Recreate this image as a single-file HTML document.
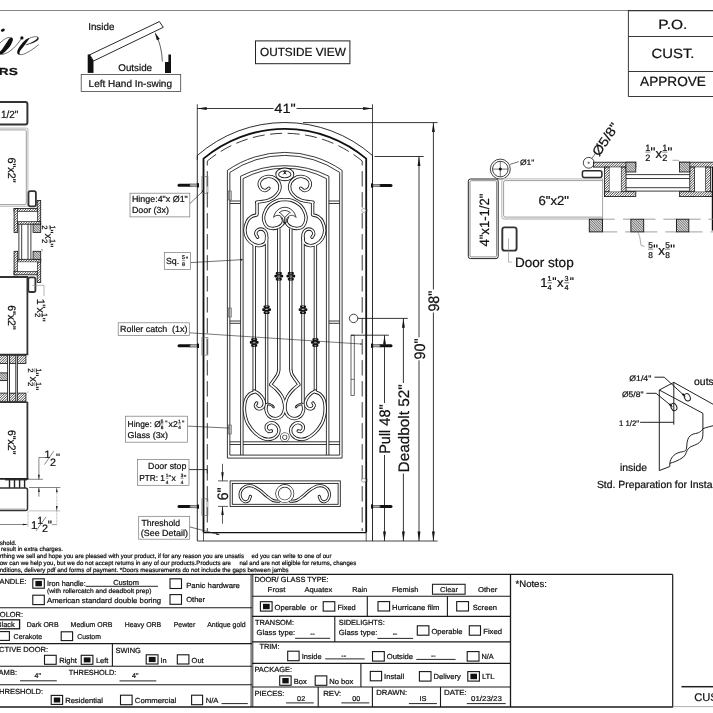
<!DOCTYPE html>
<html><head><meta charset="utf-8"><title>Door drawing</title>
<style>
html,body{margin:0;padding:0;background:#fff;}
body{width:713px;height:713px;overflow:hidden;}
svg text{stroke:#111;stroke-width:0.22px;}
svg{display:block;font-family:"Liberation Sans",sans-serif;text-rendering:geometricPrecision;filter:grayscale(1);}
</style></head><body>
<svg width="713" height="713" viewBox="0 0 713 713">
<rect width="713" height="713" fill="#fff"/>
<line x1="0" y1="10.5" x2="628" y2="10.5" stroke="#777" stroke-width="0.9" />
<g fill="none" stroke="#111" stroke-linecap="round">
<ellipse cx="2.8" cy="30.2" rx="2.1" ry="1.45" transform="rotate(-25 2.8 30.2)" fill="#111" stroke="none"/>
<path d="M-1,44 C2,41 5,38.3 8,37.6 C10,37.2 11.5,37.4 12.2,38.2" stroke-width="0.6"/>
<path d="M8.6,39.6 C9.6,37.6 12.2,36.9 12.8,38.8 C13.2,40.4 12.2,42.4 11.1,44.4 C9.6,47 7.4,49.4 5.6,51.2 C4,52.8 2.6,53.8 1.2,54.3 L-1,54.3 L-1,52.3 C0.4,51.3 1.4,50.2 2.5,48.7 C4.6,45.8 6.8,42.6 8.6,39.6 Z" fill="#111" stroke="none"/>
<path d="M0.5,54.4 C3,54.8 6.5,53.4 9.9,51.2 C12.4,49.4 14.4,47.4 16,45.6 C18.2,43.2 20,41 21.4,38.6" stroke-width="0.6"/>
<circle cx="21.9" cy="37.9" r="1.65" fill="#111" stroke="none"/>
<path d="M27.8,38.4 C28.6,38 29.4,38.4 29,39.1 C27.6,41 26,43 24.7,45 C23.2,47.2 21.6,48.9 20.4,50.5 C19.6,51.8 19.2,53.2 19.8,54.2 C18.6,54.8 17.4,54.3 17.2,52.8 C17,51 17.8,49.2 19.8,46.2 C21.6,43.6 23.8,41.2 25.9,39.4 C26.6,38.9 27.2,38.6 27.8,38.4 Z" fill="#111" stroke="none"/>
<path d="M28.2,38.8 C30,37.8 32.4,37 34.6,36.7 C36.2,36.5 37.4,36.8 37.9,37.5" stroke-width="0.6"/>
<path d="M37.7,37.2 C38.6,37.6 38.7,38.6 38.2,39.4 C37.8,40 37.2,40.6 36.4,41.1 C34.8,42.2 32.8,42.9 30.9,43.5 C29.2,44 27.4,44.5 25.6,44.8 C27.6,44.2 29.4,43.6 30.8,42.9 C32.6,42.1 34.4,41.1 35.8,40 C36.8,39.2 37.6,38.2 37.7,37.2 Z" fill="#111" stroke="#111" stroke-width="0.35"/>
<path d="M18.8,54.3 C20.4,54.9 22,54.7 23.5,54.2 C25.6,53.5 27.6,52.4 29.6,51.2 C32.6,49.4 35.6,47.2 38.4,44.9" stroke-width="0.6"/>
</g>
<text x="-1.2" y="74.8" font-size="10.2" textLength="19" lengthAdjust="spacingAndGlyphs" font-weight="bold" fill="#111" >RS</text>
<text x="88.2" y="29.8" font-size="9.8" fill="#111" >Inside</text>
<text x="118.3" y="70.7" font-size="9.8" fill="#111" >Outside</text>
<polygon points="87.7,54.4 93.5,54.4 93.5,72.9 87.7,72.9" fill="#111" stroke="none" stroke-width="0"/>
<polygon points="90,55.2 93.6,61.2 93.6,54.9" fill="#fff" stroke="none" stroke-width="0"/>
<polygon points="89.7,54.8 159.4,21.6 163.3,27.3 93.5,61" fill="#fff" stroke="#111" stroke-width="0.9"/>
<polygon points="168.4,54.4 171,54.4 171,72.9 165,72.9 165,62 168.4,62" fill="#111" stroke="none" stroke-width="0"/>
<path d="M162.3,61.5 C162,51 159.5,41 155.3,33.4" fill="none" stroke="#151515" stroke-width="0.7" />
<polygon points="154.9,32.6 159.8,38.89 156.84,40.33" fill="#151515" stroke="none" stroke-width="0"/>
<rect x="81.2" y="74.4" width="99.5" height="17" rx="0" fill="none" stroke="#444" stroke-width="0.8" />
<text x="88.6" y="86.9" font-size="10.0" fill="#111" >Left Hand In-swing</text>
<rect x="255.5" y="40.9" width="94.4" height="22.8" rx="0" fill="none" stroke="#222" stroke-width="1.0" />
<text x="302.9" y="55.5" font-size="11.8" text-anchor="middle" fill="#111" >OUTSIDE VIEW</text>
<line x1="628" y1="10.6" x2="713" y2="10.6" stroke="#333" stroke-width="1.3" />
<line x1="628.4" y1="10.6" x2="628.4" y2="96.5" stroke="#222" stroke-width="0.9" />
<line x1="628.4" y1="36.5" x2="713" y2="36.5" stroke="#222" stroke-width="0.9" />
<line x1="628.4" y1="71.5" x2="713" y2="71.5" stroke="#222" stroke-width="0.9" />
<line x1="628.4" y1="96.5" x2="713" y2="96.5" stroke="#222" stroke-width="0.9" />
<text x="672.8" y="29.3" font-size="13.3" text-anchor="middle" textLength="29" lengthAdjust="spacingAndGlyphs" fill="#111" >P.O.</text>
<text x="673" y="58.3" font-size="13.3" text-anchor="middle" textLength="42.9" lengthAdjust="spacingAndGlyphs" fill="#111" >CUST.</text>
<text x="673" y="85.7" font-size="13.4" text-anchor="middle" textLength="65.9" lengthAdjust="spacingAndGlyphs" fill="#111" >APPROVE</text>
<line x1="197.3" y1="104.3" x2="197.3" y2="160" stroke="#151515" stroke-width="0.8" />
<line x1="372.5" y1="104.3" x2="372.5" y2="160" stroke="#151515" stroke-width="0.8" />
<line x1="197.3" y1="108.5" x2="273.5" y2="108.5" stroke="#151515" stroke-width="0.85" />
<line x1="296.5" y1="108.5" x2="372.5" y2="108.5" stroke="#151515" stroke-width="0.85" />
<polygon points="197.3,108.5 206.7,107.05 206.7,109.95" fill="#151515" stroke="none" stroke-width="0"/>
<polygon points="372.5,108.5 363.1,109.95 363.1,107.05" fill="#151515" stroke="none" stroke-width="0"/>
<text x="285" y="113.4" font-size="13.4" text-anchor="middle" textLength="21.4" lengthAdjust="spacingAndGlyphs" fill="#111" >41"</text>
<path d="M197.3,541 L197.3,155.5 A132.8,132.8 0 0 1 372.5,155.5 L372.5,541" fill="none" stroke="#151515" stroke-width="0.9" />
<path d="M203.5,532.4 L203.5,158.6 A126.3,126.3 0 0 1 366.2,158.6 L366.2,532.4" fill="none" stroke="#111" stroke-width="1.8" />
<path d="M207.3,161 A122.1,122.1 0 0 1 362.2,161" fill="none" stroke="#151515" stroke-width="0.85" stroke-dasharray="12 5.5" stroke-dashoffset="0.85"/>
<path d="M207.3,161 L207.3,531" fill="none" stroke="#151515" stroke-width="0.85" stroke-dasharray="15.4 5.6" stroke-dashoffset="10.9"/>
<path d="M362.2,161 L362.2,531" fill="none" stroke="#151515" stroke-width="0.85" stroke-dasharray="15.4 5.6" stroke-dashoffset="10.9"/>
<line x1="203.5" y1="532.6" x2="366.2" y2="532.6" stroke="#111" stroke-width="1.3" />
<line x1="203.5" y1="532.4" x2="203.5" y2="541" stroke="#151515" stroke-width="0.7" />
<line x1="366.2" y1="532.4" x2="366.2" y2="541" stroke="#151515" stroke-width="0.7" />
<line x1="197.3" y1="541" x2="437.6" y2="541" stroke="#151515" stroke-width="0.8" />
<line x1="179" y1="185.2" x2="190.2" y2="185.2" stroke="#111" stroke-width="3.0" stroke-linecap="round"/>
<rect x="189.9" y="183.95" width="7.3" height="2.5" rx="0" fill="#aaa" stroke="#333" stroke-width="0.5" />
<rect x="196.9" y="183" width="2.1" height="4.4" rx="0.6" fill="#111" stroke="none" stroke-width="0" />
<line x1="179" y1="345.8" x2="190.2" y2="345.8" stroke="#111" stroke-width="3.0" stroke-linecap="round"/>
<rect x="189.9" y="344.55" width="7.3" height="2.5" rx="0" fill="#aaa" stroke="#333" stroke-width="0.5" />
<rect x="196.9" y="343.6" width="2.1" height="4.4" rx="0.6" fill="#111" stroke="none" stroke-width="0" />
<line x1="179" y1="506.6" x2="190.2" y2="506.6" stroke="#111" stroke-width="3.0" stroke-linecap="round"/>
<rect x="189.9" y="505.35" width="7.3" height="2.5" rx="0" fill="#aaa" stroke="#333" stroke-width="0.5" />
<rect x="196.9" y="504.4" width="2.1" height="4.4" rx="0.6" fill="#111" stroke="none" stroke-width="0" />
<line x1="379.8" y1="185.5" x2="391" y2="185.5" stroke="#111" stroke-width="3.0" stroke-linecap="round"/>
<rect x="372.8" y="184.25" width="7.3" height="2.5" rx="0" fill="#aaa" stroke="#333" stroke-width="0.5" />
<rect x="371" y="183.3" width="2.1" height="4.4" rx="0.6" fill="#111" stroke="none" stroke-width="0" />
<line x1="379.8" y1="345.7" x2="391" y2="345.7" stroke="#111" stroke-width="3.0" stroke-linecap="round"/>
<rect x="372.8" y="344.45" width="7.3" height="2.5" rx="0" fill="#aaa" stroke="#333" stroke-width="0.5" />
<rect x="371" y="343.5" width="2.1" height="4.4" rx="0.6" fill="#111" stroke="none" stroke-width="0" />
<line x1="379.8" y1="506.5" x2="391" y2="506.5" stroke="#111" stroke-width="3.0" stroke-linecap="round"/>
<rect x="372.8" y="505.25" width="7.3" height="2.5" rx="0" fill="#aaa" stroke="#333" stroke-width="0.5" />
<rect x="371" y="504.3" width="2.1" height="4.4" rx="0.6" fill="#111" stroke="none" stroke-width="0" />
<rect x="201.9" y="176.4" width="6" height="16.8" rx="0" fill="none" stroke="#666" stroke-width="0.6" />
<line x1="206.5" y1="176.4" x2="206.5" y2="193.2" stroke="#888" stroke-width="0.5" />
<rect x="201.9" y="337.3" width="6" height="17.8" rx="0" fill="none" stroke="#666" stroke-width="0.6" />
<line x1="206.5" y1="337.3" x2="206.5" y2="355.1" stroke="#888" stroke-width="0.5" />
<rect x="201.9" y="498.8" width="6" height="16.6" rx="0" fill="none" stroke="#666" stroke-width="0.6" />
<line x1="206.5" y1="498.8" x2="206.5" y2="515.4" stroke="#888" stroke-width="0.5" />
<line x1="303" y1="122.6" x2="437.6" y2="122.6" stroke="#151515" stroke-width="0.85" />
<line x1="374.5" y1="156.5" x2="423.7" y2="156.5" stroke="#151515" stroke-width="0.85" />
<line x1="433.4" y1="122.6" x2="433.4" y2="289.5" stroke="#151515" stroke-width="0.85" />
<line x1="433.4" y1="312.5" x2="433.4" y2="541" stroke="#151515" stroke-width="0.85" />
<polygon points="433.4,122.6 434.85,132 431.95,132" fill="#151515" stroke="none" stroke-width="0"/>
<polygon points="433.4,541 431.95,531.6 434.85,531.6" fill="#151515" stroke="none" stroke-width="0"/>
<text x="439.2" y="311.6" font-size="15.2" transform="rotate(-90 439.2 311.6)" textLength="21" lengthAdjust="spacingAndGlyphs" fill="#111" >98"</text>
<line x1="419" y1="156.5" x2="419" y2="337.3" stroke="#151515" stroke-width="0.85" />
<line x1="419" y1="360.3" x2="419" y2="541" stroke="#151515" stroke-width="0.85" />
<polygon points="419,156.5 420.45,165.9 417.55,165.9" fill="#151515" stroke="none" stroke-width="0"/>
<polygon points="419,541 417.55,531.6 420.45,531.6" fill="#151515" stroke="none" stroke-width="0"/>
<text x="424.7" y="359.4" font-size="15.2" transform="rotate(-90 424.7 359.4)" textLength="21" lengthAdjust="spacingAndGlyphs" fill="#111" >90"</text>
<circle cx="353.6" cy="318.4" r="4.2" fill="none" stroke="#151515" stroke-width="0.8"/>
<line x1="357.8" y1="318.4" x2="407.8" y2="318.4" stroke="#151515" stroke-width="0.85" />
<line x1="403.4" y1="318.4" x2="403.4" y2="383" stroke="#151515" stroke-width="0.85" />
<line x1="403.4" y1="473.5" x2="403.4" y2="541" stroke="#151515" stroke-width="0.85" />
<polygon points="403.4,318.4 404.85,327.8 401.95,327.8" fill="#151515" stroke="none" stroke-width="0"/>
<polygon points="403.4,541 401.95,531.6 404.85,531.6" fill="#151515" stroke="none" stroke-width="0"/>
<text x="409" y="472.4" font-size="15.2" transform="rotate(-90 409 472.4)" textLength="88.2" lengthAdjust="spacingAndGlyphs" fill="#111" >Deadbolt 52"</text>
<rect x="351" y="335.2" width="3.2" height="60.1" rx="0" fill="none" stroke="#151515" stroke-width="0.65" />
<line x1="351" y1="379.3" x2="354.2" y2="379.3" stroke="#151515" stroke-width="0.6" />
<line x1="351" y1="335.2" x2="388.9" y2="335.2" stroke="#151515" stroke-width="0.85" />
<line x1="384.5" y1="335.2" x2="384.5" y2="403" stroke="#151515" stroke-width="0.85" />
<line x1="384.5" y1="455" x2="384.5" y2="541" stroke="#151515" stroke-width="0.85" />
<polygon points="384.5,335.2 385.95,344.6 383.05,344.6" fill="#151515" stroke="none" stroke-width="0"/>
<polygon points="384.5,541 383.05,531.6 385.95,531.6" fill="#151515" stroke="none" stroke-width="0"/>
<text x="390" y="453.8" font-size="15.2" transform="rotate(-90 390 453.8)" textLength="49.4" lengthAdjust="spacingAndGlyphs" fill="#111" >Pull 48"</text>
<path d="M227.4,458.1 L227.4,170.4 A100.36,100.36 0 0 1 342.1,170.4 L342.1,458.1Z" fill="none" stroke="#151515" stroke-width="0.85" />
<path d="M229.85,455.1 L229.85,172.4 A97.15,97.15 0 0 1 339.65,172.4 L339.65,455.1Z" fill="none" stroke="#151515" stroke-width="0.85" />
<path d="M240.6,455.1 L240.6,176.2 A98.07,98.07 0 0 1 328.9,176.2 L328.9,455.1" fill="none" stroke="#151515" stroke-width="0.85" />
<path d="M243.1,455.1 L243.1,178.6 A88.6,88.6 0 0 1 326.4,178.6 L326.4,455.1" fill="none" stroke="#151515" stroke-width="0.85" />
<line x1="229.85" y1="201" x2="240.6" y2="201" stroke="#151515" stroke-width="0.85" />
<line x1="328.9" y1="201" x2="339.65" y2="201" stroke="#151515" stroke-width="0.85" />
<line x1="229.85" y1="203.5" x2="240.6" y2="203.5" stroke="#151515" stroke-width="0.85" />
<line x1="328.9" y1="203.5" x2="339.65" y2="203.5" stroke="#151515" stroke-width="0.85" />
<line x1="229.85" y1="321" x2="240.6" y2="321" stroke="#151515" stroke-width="0.85" />
<line x1="328.9" y1="321" x2="339.65" y2="321" stroke="#151515" stroke-width="0.85" />
<line x1="229.85" y1="323.3" x2="240.6" y2="323.3" stroke="#151515" stroke-width="0.85" />
<line x1="328.9" y1="323.3" x2="339.65" y2="323.3" stroke="#151515" stroke-width="0.85" />
<line x1="229.85" y1="441.8" x2="240.6" y2="441.8" stroke="#151515" stroke-width="0.85" />
<line x1="243.1" y1="441.8" x2="326.4" y2="441.8" stroke="#151515" stroke-width="0.85" />
<line x1="328.9" y1="441.8" x2="339.65" y2="441.8" stroke="#151515" stroke-width="0.85" />
<line x1="229.85" y1="444.5" x2="240.6" y2="444.5" stroke="#151515" stroke-width="0.85" />
<line x1="243.1" y1="444.5" x2="326.4" y2="444.5" stroke="#151515" stroke-width="0.85" />
<line x1="328.9" y1="444.5" x2="339.65" y2="444.5" stroke="#151515" stroke-width="0.85" />
<path d="M254.2,245 L254.2,392" fill="none" stroke="#151515" stroke-width="3.35" stroke-linecap="butt" stroke-linejoin="round"/>
<path d="M315.4,245 L315.4,392" fill="none" stroke="#151515" stroke-width="3.35" stroke-linecap="butt" stroke-linejoin="round"/>
<path d="M266.6,237 L266.6,405" fill="none" stroke="#151515" stroke-width="3.35" stroke-linecap="butt" stroke-linejoin="round"/>
<path d="M303,237 L303,405" fill="none" stroke="#151515" stroke-width="3.35" stroke-linecap="butt" stroke-linejoin="round"/>
<path d="M278.8,228.5 L278.8,370.5" fill="none" stroke="#151515" stroke-width="3.35" stroke-linecap="butt" stroke-linejoin="round"/>
<path d="M290.8,228.5 L290.8,370.5" fill="none" stroke="#151515" stroke-width="3.35" stroke-linecap="butt" stroke-linejoin="round"/>
<ellipse cx="284.8" cy="174.4" rx="7.6" ry="4.95" fill="none" stroke="#151515" stroke-width="3.7"/>
<path d="M268.9,188.2 C268.25,188.6 266.45,190.7 265,190.6 C263.55,190.5 261.03,189.2 260.2,187.6 C259.37,186 258.9,182.83 260,181 C261.1,179.17 264.22,177 266.8,176.6 C269.38,176.2 273.3,177.03 275.5,178.6 C277.7,180.17 279.7,183.43 280,186 C280.3,188.57 279.13,191.67 277.3,194 C275.47,196.33 272.45,198.63 269,200 C265.55,201.37 258.67,201.83 256.6,202.2" fill="none" stroke="#151515" stroke-width="3.35" stroke-linecap="round" stroke-linejoin="round"/>
<path d="M300.7,188.2 C301.35,188.6 303.15,190.7 304.6,190.6 C306.05,190.5 308.57,189.2 309.4,187.6 C310.23,186 310.7,182.83 309.6,181 C308.5,179.17 305.38,177 302.8,176.6 C300.22,176.2 296.3,177.03 294.1,178.6 C291.9,180.17 289.9,183.43 289.6,186 C289.3,188.57 290.47,191.67 292.3,194 C294.13,196.33 297.15,198.63 300.6,200 C304.05,201.37 310.93,201.83 313,202.2" fill="none" stroke="#151515" stroke-width="3.35" stroke-linecap="round" stroke-linejoin="round"/>
<path d="M257,201.9 L257,214.6 L256.6,215 C255.75,215.27 253.05,215.6 251.5,216.6 C249.95,217.6 248.4,218.72 247.3,221 C246.2,223.28 244.9,227.35 244.9,230.3 C244.9,233.25 245.78,236.32 247.3,238.7 C248.82,241.08 251.77,243.48 254,244.6 C256.23,245.72 258.82,245.67 260.7,245.4 C262.58,245.13 264.32,243.98 265.3,243 C266.28,242.02 266.38,240.08 266.6,239.5" fill="none" stroke="#151515" stroke-width="3.35" stroke-linecap="butt" stroke-linejoin="round"/>
<path d="M312.6,201.9 L312.6,214.6 L313,215 C313.85,215.27 316.55,215.6 318.1,216.6 C319.65,217.6 321.2,218.72 322.3,221 C323.4,223.28 324.7,227.35 324.7,230.3 C324.7,233.25 323.82,236.32 322.3,238.7 C320.78,241.08 317.83,243.48 315.6,244.6 C313.37,245.72 310.78,245.67 308.9,245.4 C307.02,245.13 305.28,243.98 304.3,243 C303.32,242.02 303.22,240.08 303,239.5" fill="none" stroke="#151515" stroke-width="3.35" stroke-linecap="butt" stroke-linejoin="round"/>
<path d="M257.6,237.2 C257.3,236.63 255.87,234.93 255.8,233.8 C255.73,232.67 256.38,231.2 257.2,230.4 C258.02,229.6 259.5,229 260.7,229 C261.9,229 263.45,229.57 264.4,230.4 C265.35,231.23 266.03,232.65 266.4,234 C266.77,235.35 266.57,237.75 266.6,238.5" fill="none" stroke="#151515" stroke-width="3.35" stroke-linecap="round" stroke-linejoin="round"/>
<path d="M312,237.2 C312.3,236.63 313.73,234.93 313.8,233.8 C313.87,232.67 313.22,231.2 312.4,230.4 C311.58,229.6 310.1,229 308.9,229 C307.7,229 306.15,229.57 305.2,230.4 C304.25,231.23 303.57,232.65 303.2,234 C302.83,235.35 303.03,237.75 303,238.5" fill="none" stroke="#151515" stroke-width="3.35" stroke-linecap="round" stroke-linejoin="round"/>
<path d="M284.8,199.6 C283.58,199.77 280.13,199.62 277.5,200.6 C274.87,201.58 271.2,203.35 269,205.5 C266.8,207.65 265.18,211.08 264.3,213.5 C263.42,215.92 263.32,217.85 263.7,220 C264.08,222.15 265.27,225 266.6,226.4 C267.93,227.8 269.87,228.2 271.7,228.4 C273.53,228.6 275.85,228.27 277.6,227.6 C279.35,226.93 281.22,225.6 282.2,224.4 C283.18,223.2 283.55,221.7 283.5,220.4 C283.45,219.1 282.17,217.23 281.9,216.6" fill="none" stroke="#151515" stroke-width="3.35" stroke-linecap="butt" stroke-linejoin="round"/>
<path d="M284.8,199.6 C286.02,199.77 289.47,199.62 292.1,200.6 C294.73,201.58 298.4,203.35 300.6,205.5 C302.8,207.65 304.42,211.08 305.3,213.5 C306.18,215.92 306.28,217.85 305.9,220 C305.52,222.15 304.33,225 303,226.4 C301.67,227.8 299.73,228.2 297.9,228.4 C296.07,228.6 293.75,228.27 292,227.6 C290.25,226.93 288.38,225.6 287.4,224.4 C286.42,223.2 286.05,221.7 286.1,220.4 C286.15,219.1 287.43,217.23 287.7,216.6" fill="none" stroke="#151515" stroke-width="3.35" stroke-linecap="butt" stroke-linejoin="round"/>
<path d="M254.2,245 L254.2,392" fill="none" stroke="#fff" stroke-width="1.65" stroke-linecap="butt" stroke-linejoin="round"/>
<path d="M315.4,245 L315.4,392" fill="none" stroke="#fff" stroke-width="1.65" stroke-linecap="butt" stroke-linejoin="round"/>
<path d="M266.6,237 L266.6,405" fill="none" stroke="#fff" stroke-width="1.65" stroke-linecap="butt" stroke-linejoin="round"/>
<path d="M303,237 L303,405" fill="none" stroke="#fff" stroke-width="1.65" stroke-linecap="butt" stroke-linejoin="round"/>
<path d="M278.8,228.5 L278.8,370.5" fill="none" stroke="#fff" stroke-width="1.65" stroke-linecap="butt" stroke-linejoin="round"/>
<path d="M290.8,228.5 L290.8,370.5" fill="none" stroke="#fff" stroke-width="1.65" stroke-linecap="butt" stroke-linejoin="round"/>
<ellipse cx="284.8" cy="174.4" rx="7.6" ry="4.95" fill="none" stroke="#fff" stroke-width="2.0"/>
<path d="M268.9,188.2 C268.25,188.6 266.45,190.7 265,190.6 C263.55,190.5 261.03,189.2 260.2,187.6 C259.37,186 258.9,182.83 260,181 C261.1,179.17 264.22,177 266.8,176.6 C269.38,176.2 273.3,177.03 275.5,178.6 C277.7,180.17 279.7,183.43 280,186 C280.3,188.57 279.13,191.67 277.3,194 C275.47,196.33 272.45,198.63 269,200 C265.55,201.37 258.67,201.83 256.6,202.2" fill="none" stroke="#fff" stroke-width="1.65" stroke-linecap="round" stroke-linejoin="round"/>
<path d="M300.7,188.2 C301.35,188.6 303.15,190.7 304.6,190.6 C306.05,190.5 308.57,189.2 309.4,187.6 C310.23,186 310.7,182.83 309.6,181 C308.5,179.17 305.38,177 302.8,176.6 C300.22,176.2 296.3,177.03 294.1,178.6 C291.9,180.17 289.9,183.43 289.6,186 C289.3,188.57 290.47,191.67 292.3,194 C294.13,196.33 297.15,198.63 300.6,200 C304.05,201.37 310.93,201.83 313,202.2" fill="none" stroke="#fff" stroke-width="1.65" stroke-linecap="round" stroke-linejoin="round"/>
<path d="M257,201.9 L257,214.6 L256.6,215 C255.75,215.27 253.05,215.6 251.5,216.6 C249.95,217.6 248.4,218.72 247.3,221 C246.2,223.28 244.9,227.35 244.9,230.3 C244.9,233.25 245.78,236.32 247.3,238.7 C248.82,241.08 251.77,243.48 254,244.6 C256.23,245.72 258.82,245.67 260.7,245.4 C262.58,245.13 264.32,243.98 265.3,243 C266.28,242.02 266.38,240.08 266.6,239.5" fill="none" stroke="#fff" stroke-width="1.65" stroke-linecap="butt" stroke-linejoin="round"/>
<path d="M312.6,201.9 L312.6,214.6 L313,215 C313.85,215.27 316.55,215.6 318.1,216.6 C319.65,217.6 321.2,218.72 322.3,221 C323.4,223.28 324.7,227.35 324.7,230.3 C324.7,233.25 323.82,236.32 322.3,238.7 C320.78,241.08 317.83,243.48 315.6,244.6 C313.37,245.72 310.78,245.67 308.9,245.4 C307.02,245.13 305.28,243.98 304.3,243 C303.32,242.02 303.22,240.08 303,239.5" fill="none" stroke="#fff" stroke-width="1.65" stroke-linecap="butt" stroke-linejoin="round"/>
<path d="M257.6,237.2 C257.3,236.63 255.87,234.93 255.8,233.8 C255.73,232.67 256.38,231.2 257.2,230.4 C258.02,229.6 259.5,229 260.7,229 C261.9,229 263.45,229.57 264.4,230.4 C265.35,231.23 266.03,232.65 266.4,234 C266.77,235.35 266.57,237.75 266.6,238.5" fill="none" stroke="#fff" stroke-width="1.65" stroke-linecap="round" stroke-linejoin="round"/>
<path d="M312,237.2 C312.3,236.63 313.73,234.93 313.8,233.8 C313.87,232.67 313.22,231.2 312.4,230.4 C311.58,229.6 310.1,229 308.9,229 C307.7,229 306.15,229.57 305.2,230.4 C304.25,231.23 303.57,232.65 303.2,234 C302.83,235.35 303.03,237.75 303,238.5" fill="none" stroke="#fff" stroke-width="1.65" stroke-linecap="round" stroke-linejoin="round"/>
<path d="M284.8,199.6 C283.58,199.77 280.13,199.62 277.5,200.6 C274.87,201.58 271.2,203.35 269,205.5 C266.8,207.65 265.18,211.08 264.3,213.5 C263.42,215.92 263.32,217.85 263.7,220 C264.08,222.15 265.27,225 266.6,226.4 C267.93,227.8 269.87,228.2 271.7,228.4 C273.53,228.6 275.85,228.27 277.6,227.6 C279.35,226.93 281.22,225.6 282.2,224.4 C283.18,223.2 283.55,221.7 283.5,220.4 C283.45,219.1 282.17,217.23 281.9,216.6" fill="none" stroke="#fff" stroke-width="1.65" stroke-linecap="butt" stroke-linejoin="round"/>
<path d="M284.8,199.6 C286.02,199.77 289.47,199.62 292.1,200.6 C294.73,201.58 298.4,203.35 300.6,205.5 C302.8,207.65 304.42,211.08 305.3,213.5 C306.18,215.92 306.28,217.85 305.9,220 C305.52,222.15 304.33,225 303,226.4 C301.67,227.8 299.73,228.2 297.9,228.4 C296.07,228.6 293.75,228.27 292,227.6 C290.25,226.93 288.38,225.6 287.4,224.4 C286.42,223.2 286.05,221.7 286.1,220.4 C286.15,219.1 287.43,217.23 287.7,216.6" fill="none" stroke="#fff" stroke-width="1.65" stroke-linecap="butt" stroke-linejoin="round"/>
<path d="M273.6,217.4 C274.8,211.5 279.3,207.3 284.8,207.3 C290.3,207.3 294.8,211.5 296,217.4 C294.2,215.2 291,214.6 288.6,216.4 C287,217.8 286.3,219.8 286.2,222.6 L283.4,222.6 C283.3,219.8 282.6,217.8 281,216.4 C278.6,214.6 275.4,215.2 273.6,217.4 Z" fill="#fff" stroke="#151515" stroke-width="0.85" />
<path d="M279,212.9 C280.8,211.2 282.8,210.5 284.8,210.5 C286.8,210.5 288.8,211.2 290.6,212.9" fill="none" stroke="#151515" stroke-width="0.85" />
<path d="M279.9,212.5 L284.8,217.5 L289.7,212.5" fill="none" stroke="#151515" stroke-width="0.85" />
<line x1="284.8" y1="217.5" x2="284.8" y2="224.6" stroke="#151515" stroke-width="1.1" />
<path d="M283.25,170.8 L286.35,174.4 M286.35,170.8 L283.25,174.4 M284.8,170.2 L284.8,174.0" fill="none" stroke="#111" stroke-width="0.9" />
<rect x="275.8" y="272.1" width="6" height="2.6" rx="0.8" fill="#111" stroke="none" stroke-width="0" />
<rect x="274.4" y="274.8" width="8.8" height="2.8" rx="1.0" fill="#111" stroke="none" stroke-width="0" />
<rect x="275.8" y="277.9" width="6" height="2.6" rx="0.8" fill="#111" stroke="none" stroke-width="0" />
<line x1="277.8" y1="273.2" x2="279.8" y2="273.2" stroke="#ddd" stroke-width="0.7" />
<line x1="277.4" y1="276.1" x2="280.2" y2="276.1" stroke="#ddd" stroke-width="0.8" />
<line x1="277.8" y1="279.2" x2="279.8" y2="279.2" stroke="#ddd" stroke-width="0.7" />
<rect x="287.8" y="272.1" width="6" height="2.6" rx="0.8" fill="#111" stroke="none" stroke-width="0" />
<rect x="286.4" y="274.8" width="8.8" height="2.8" rx="1.0" fill="#111" stroke="none" stroke-width="0" />
<rect x="287.8" y="277.9" width="6" height="2.6" rx="0.8" fill="#111" stroke="none" stroke-width="0" />
<line x1="289.8" y1="273.2" x2="291.8" y2="273.2" stroke="#ddd" stroke-width="0.7" />
<line x1="289.4" y1="276.1" x2="292.2" y2="276.1" stroke="#ddd" stroke-width="0.8" />
<line x1="289.8" y1="279.2" x2="291.8" y2="279.2" stroke="#ddd" stroke-width="0.7" />
<rect x="263.6" y="305.5" width="6" height="2.6" rx="0.8" fill="#111" stroke="none" stroke-width="0" />
<rect x="262.2" y="308.2" width="8.8" height="2.8" rx="1.0" fill="#111" stroke="none" stroke-width="0" />
<rect x="263.6" y="311.3" width="6" height="2.6" rx="0.8" fill="#111" stroke="none" stroke-width="0" />
<line x1="265.6" y1="306.6" x2="267.6" y2="306.6" stroke="#ddd" stroke-width="0.7" />
<line x1="265.2" y1="309.5" x2="268" y2="309.5" stroke="#ddd" stroke-width="0.8" />
<line x1="265.6" y1="312.6" x2="267.6" y2="312.6" stroke="#ddd" stroke-width="0.7" />
<rect x="300" y="305.5" width="6" height="2.6" rx="0.8" fill="#111" stroke="none" stroke-width="0" />
<rect x="298.6" y="308.2" width="8.8" height="2.8" rx="1.0" fill="#111" stroke="none" stroke-width="0" />
<rect x="300" y="311.3" width="6" height="2.6" rx="0.8" fill="#111" stroke="none" stroke-width="0" />
<line x1="302" y1="306.6" x2="304" y2="306.6" stroke="#ddd" stroke-width="0.7" />
<line x1="301.6" y1="309.5" x2="304.4" y2="309.5" stroke="#ddd" stroke-width="0.8" />
<line x1="302" y1="312.6" x2="304" y2="312.6" stroke="#ddd" stroke-width="0.7" />
<rect x="251.2" y="338.3" width="6" height="2.6" rx="0.8" fill="#111" stroke="none" stroke-width="0" />
<rect x="249.8" y="341" width="8.8" height="2.8" rx="1.0" fill="#111" stroke="none" stroke-width="0" />
<rect x="251.2" y="344.1" width="6" height="2.6" rx="0.8" fill="#111" stroke="none" stroke-width="0" />
<line x1="253.2" y1="339.4" x2="255.2" y2="339.4" stroke="#ddd" stroke-width="0.7" />
<line x1="252.8" y1="342.3" x2="255.6" y2="342.3" stroke="#ddd" stroke-width="0.8" />
<line x1="253.2" y1="345.4" x2="255.2" y2="345.4" stroke="#ddd" stroke-width="0.7" />
<rect x="312.4" y="338.3" width="6" height="2.6" rx="0.8" fill="#111" stroke="none" stroke-width="0" />
<rect x="311" y="341" width="8.8" height="2.8" rx="1.0" fill="#111" stroke="none" stroke-width="0" />
<rect x="312.4" y="344.1" width="6" height="2.6" rx="0.8" fill="#111" stroke="none" stroke-width="0" />
<line x1="314.4" y1="339.4" x2="316.4" y2="339.4" stroke="#ddd" stroke-width="0.7" />
<line x1="314" y1="342.3" x2="316.8" y2="342.3" stroke="#ddd" stroke-width="0.8" />
<line x1="314.4" y1="345.4" x2="316.4" y2="345.4" stroke="#ddd" stroke-width="0.7" />
<path d="M278.8,370 C278.6,370.75 278.48,372.75 277.6,374.5 C276.72,376.25 274.67,378.82 273.5,380.5 C272.33,382.18 271.08,383.92 270.6,384.6 L270.6,384.6 C271.58,385.42 274.6,387.52 276.5,389.5 C278.4,391.48 280.68,394.08 282,396.5 C283.32,398.92 284.03,401.58 284.4,404 C284.77,406.42 284.77,408.92 284.2,411 C283.63,413.08 282.53,415.23 281,416.5 C279.47,417.77 277.03,418.68 275,418.6 C272.97,418.52 270.3,417.43 268.8,416 C267.3,414.57 266.37,412 266,410 C265.63,408 266.5,405 266.6,404" fill="none" stroke="#151515" stroke-width="3.35" stroke-linecap="butt" stroke-linejoin="round"/>
<path d="M254.2,392 C253.43,392.33 251.03,392.7 249.6,394 C248.17,395.3 246.47,397.47 245.6,399.8 C244.73,402.13 244.47,405.3 244.4,408 C244.33,410.7 244.63,413.4 245.2,416 C245.77,418.6 246.23,420.83 247.8,423.6 C249.37,426.37 252.03,430.13 254.6,432.6 C257.17,435.07 260.4,437.33 263.2,438.4 C266,439.47 269.13,439.43 271.4,439 C273.67,438.57 275.53,437.23 276.8,435.8 C278.07,434.37 279,432.17 279,430.4 C279,428.63 278,426.5 276.8,425.2 C275.6,423.9 273.43,422.67 271.8,422.6 C270.17,422.53 267.9,423.77 267,424.8 C266.1,425.83 266.13,427.7 266.4,428.8 C266.67,429.9 267.77,431.03 268.6,431.4 C269.43,431.77 270.93,431.07 271.4,431" fill="none" stroke="#151515" stroke-width="3.35" stroke-linecap="round" stroke-linejoin="round"/>
<path d="M254.2,391 C254.92,391.42 257.07,392.25 258.5,393.5 C259.93,394.75 261.83,396.75 262.8,398.5 C263.77,400.25 264.43,402.42 264.3,404 C264.17,405.58 263.08,407.23 262,408 C260.92,408.77 258.9,409 257.8,408.6 C256.7,408.2 255.6,406.53 255.4,405.6 C255.2,404.67 256.4,403.43 256.6,403" fill="none" stroke="#151515" stroke-width="3.35" stroke-linecap="round" stroke-linejoin="round"/>
<path d="M267.2,404 C267.63,404.07 268.93,404.1 269.8,404.4 C270.67,404.7 271.77,405.33 272.4,405.8 C273.03,406.27 273.4,406.97 273.6,407.2" fill="none" stroke="#151515" stroke-width="2.45" stroke-linecap="round" stroke-linejoin="round"/>
<path d="M290.8,370 C291,370.75 291.12,372.75 292,374.5 C292.88,376.25 294.93,378.82 296.1,380.5 C297.27,382.18 298.52,383.92 299,384.6 L299,384.6 C298.02,385.42 295,387.52 293.1,389.5 C291.2,391.48 288.92,394.08 287.6,396.5 C286.28,398.92 285.57,401.58 285.2,404 C284.83,406.42 284.83,408.92 285.4,411 C285.97,413.08 287.07,415.23 288.6,416.5 C290.13,417.77 292.57,418.68 294.6,418.6 C296.63,418.52 299.3,417.43 300.8,416 C302.3,414.57 303.23,412 303.6,410 C303.97,408 303.1,405 303,404" fill="none" stroke="#151515" stroke-width="3.35" stroke-linecap="butt" stroke-linejoin="round"/>
<path d="M315.4,392 C316.17,392.33 318.57,392.7 320,394 C321.43,395.3 323.13,397.47 324,399.8 C324.87,402.13 325.13,405.3 325.2,408 C325.27,410.7 324.97,413.4 324.4,416 C323.83,418.6 323.37,420.83 321.8,423.6 C320.23,426.37 317.57,430.13 315,432.6 C312.43,435.07 309.2,437.33 306.4,438.4 C303.6,439.47 300.47,439.43 298.2,439 C295.93,438.57 294.07,437.23 292.8,435.8 C291.53,434.37 290.6,432.17 290.6,430.4 C290.6,428.63 291.6,426.5 292.8,425.2 C294,423.9 296.17,422.67 297.8,422.6 C299.43,422.53 301.7,423.77 302.6,424.8 C303.5,425.83 303.47,427.7 303.2,428.8 C302.93,429.9 301.83,431.03 301,431.4 C300.17,431.77 298.67,431.07 298.2,431" fill="none" stroke="#151515" stroke-width="3.35" stroke-linecap="round" stroke-linejoin="round"/>
<path d="M315.4,391 C314.68,391.42 312.53,392.25 311.1,393.5 C309.67,394.75 307.77,396.75 306.8,398.5 C305.83,400.25 305.17,402.42 305.3,404 C305.43,405.58 306.52,407.23 307.6,408 C308.68,408.77 310.7,409 311.8,408.6 C312.9,408.2 314,406.53 314.2,405.6 C314.4,404.67 313.2,403.43 313,403" fill="none" stroke="#151515" stroke-width="3.35" stroke-linecap="round" stroke-linejoin="round"/>
<path d="M302.4,404 C301.97,404.07 300.67,404.1 299.8,404.4 C298.93,404.7 297.83,405.33 297.2,405.8 C296.57,406.27 296.2,406.97 296,407.2" fill="none" stroke="#151515" stroke-width="2.45" stroke-linecap="round" stroke-linejoin="round"/>
<circle cx="284.8" cy="437.2" r="3.3" fill="none" stroke="#151515" stroke-width="2.9"/>
<path d="M278.8,370 C278.6,370.75 278.48,372.75 277.6,374.5 C276.72,376.25 274.67,378.82 273.5,380.5 C272.33,382.18 271.08,383.92 270.6,384.6 L270.6,384.6 C271.58,385.42 274.6,387.52 276.5,389.5 C278.4,391.48 280.68,394.08 282,396.5 C283.32,398.92 284.03,401.58 284.4,404 C284.77,406.42 284.77,408.92 284.2,411 C283.63,413.08 282.53,415.23 281,416.5 C279.47,417.77 277.03,418.68 275,418.6 C272.97,418.52 270.3,417.43 268.8,416 C267.3,414.57 266.37,412 266,410 C265.63,408 266.5,405 266.6,404" fill="none" stroke="#fff" stroke-width="1.65" stroke-linecap="butt" stroke-linejoin="round"/>
<path d="M254.2,392 C253.43,392.33 251.03,392.7 249.6,394 C248.17,395.3 246.47,397.47 245.6,399.8 C244.73,402.13 244.47,405.3 244.4,408 C244.33,410.7 244.63,413.4 245.2,416 C245.77,418.6 246.23,420.83 247.8,423.6 C249.37,426.37 252.03,430.13 254.6,432.6 C257.17,435.07 260.4,437.33 263.2,438.4 C266,439.47 269.13,439.43 271.4,439 C273.67,438.57 275.53,437.23 276.8,435.8 C278.07,434.37 279,432.17 279,430.4 C279,428.63 278,426.5 276.8,425.2 C275.6,423.9 273.43,422.67 271.8,422.6 C270.17,422.53 267.9,423.77 267,424.8 C266.1,425.83 266.13,427.7 266.4,428.8 C266.67,429.9 267.77,431.03 268.6,431.4 C269.43,431.77 270.93,431.07 271.4,431" fill="none" stroke="#fff" stroke-width="1.65" stroke-linecap="round" stroke-linejoin="round"/>
<path d="M254.2,391 C254.92,391.42 257.07,392.25 258.5,393.5 C259.93,394.75 261.83,396.75 262.8,398.5 C263.77,400.25 264.43,402.42 264.3,404 C264.17,405.58 263.08,407.23 262,408 C260.92,408.77 258.9,409 257.8,408.6 C256.7,408.2 255.6,406.53 255.4,405.6 C255.2,404.67 256.4,403.43 256.6,403" fill="none" stroke="#fff" stroke-width="1.65" stroke-linecap="round" stroke-linejoin="round"/>
<path d="M267.2,404 C267.63,404.07 268.93,404.1 269.8,404.4 C270.67,404.7 271.77,405.33 272.4,405.8 C273.03,406.27 273.4,406.97 273.6,407.2" fill="none" stroke="#fff" stroke-width="0.75" stroke-linecap="round" stroke-linejoin="round"/>
<path d="M290.8,370 C291,370.75 291.12,372.75 292,374.5 C292.88,376.25 294.93,378.82 296.1,380.5 C297.27,382.18 298.52,383.92 299,384.6 L299,384.6 C298.02,385.42 295,387.52 293.1,389.5 C291.2,391.48 288.92,394.08 287.6,396.5 C286.28,398.92 285.57,401.58 285.2,404 C284.83,406.42 284.83,408.92 285.4,411 C285.97,413.08 287.07,415.23 288.6,416.5 C290.13,417.77 292.57,418.68 294.6,418.6 C296.63,418.52 299.3,417.43 300.8,416 C302.3,414.57 303.23,412 303.6,410 C303.97,408 303.1,405 303,404" fill="none" stroke="#fff" stroke-width="1.65" stroke-linecap="butt" stroke-linejoin="round"/>
<path d="M315.4,392 C316.17,392.33 318.57,392.7 320,394 C321.43,395.3 323.13,397.47 324,399.8 C324.87,402.13 325.13,405.3 325.2,408 C325.27,410.7 324.97,413.4 324.4,416 C323.83,418.6 323.37,420.83 321.8,423.6 C320.23,426.37 317.57,430.13 315,432.6 C312.43,435.07 309.2,437.33 306.4,438.4 C303.6,439.47 300.47,439.43 298.2,439 C295.93,438.57 294.07,437.23 292.8,435.8 C291.53,434.37 290.6,432.17 290.6,430.4 C290.6,428.63 291.6,426.5 292.8,425.2 C294,423.9 296.17,422.67 297.8,422.6 C299.43,422.53 301.7,423.77 302.6,424.8 C303.5,425.83 303.47,427.7 303.2,428.8 C302.93,429.9 301.83,431.03 301,431.4 C300.17,431.77 298.67,431.07 298.2,431" fill="none" stroke="#fff" stroke-width="1.65" stroke-linecap="round" stroke-linejoin="round"/>
<path d="M315.4,391 C314.68,391.42 312.53,392.25 311.1,393.5 C309.67,394.75 307.77,396.75 306.8,398.5 C305.83,400.25 305.17,402.42 305.3,404 C305.43,405.58 306.52,407.23 307.6,408 C308.68,408.77 310.7,409 311.8,408.6 C312.9,408.2 314,406.53 314.2,405.6 C314.4,404.67 313.2,403.43 313,403" fill="none" stroke="#fff" stroke-width="1.65" stroke-linecap="round" stroke-linejoin="round"/>
<path d="M302.4,404 C301.97,404.07 300.67,404.1 299.8,404.4 C298.93,404.7 297.83,405.33 297.2,405.8 C296.57,406.27 296.2,406.97 296,407.2" fill="none" stroke="#fff" stroke-width="0.75" stroke-linecap="round" stroke-linejoin="round"/>
<circle cx="284.8" cy="437.2" r="3.3" fill="none" stroke="#fff" stroke-width="1.6"/>
<rect x="230.1" y="480.9" width="110.2" height="25.5" rx="0" fill="none" stroke="#151515" stroke-width="0.85" />
<rect x="232.3" y="483.4" width="105.8" height="20.9" rx="0" fill="none" stroke="#151515" stroke-width="0.85" />
<path d="M250.4,496.4 C250.1,497.1 249.6,499.73 248.6,500.6 C247.6,501.47 245.7,502.03 244.4,501.6 C243.1,501.17 241.43,499.67 240.8,498 C240.17,496.33 239.87,493.5 240.6,491.6 C241.33,489.7 243.27,487.53 245.2,486.6 C247.13,485.67 249.82,485.43 252.2,486 C254.58,486.57 257.12,488.33 259.5,490 C261.88,491.67 264.25,494.25 266.5,496 C268.75,497.75 270.92,499.63 273,500.5 C275.08,501.37 278,501.08 279,501.2" fill="none" stroke="#151515" stroke-width="3.05" stroke-linecap="round" stroke-linejoin="round"/>
<path d="M319.2,496.4 C319.5,497.1 320,499.73 321,500.6 C322,501.47 323.9,502.03 325.2,501.6 C326.5,501.17 328.17,499.67 328.8,498 C329.43,496.33 329.73,493.5 329,491.6 C328.27,489.7 326.33,487.53 324.4,486.6 C322.47,485.67 319.78,485.43 317.4,486 C315.02,486.57 312.48,488.33 310.1,490 C307.72,491.67 305.35,494.25 303.1,496 C300.85,497.75 298.68,499.63 296.6,500.5 C294.52,501.37 291.6,501.08 290.6,501.2" fill="none" stroke="#151515" stroke-width="3.05" stroke-linecap="round" stroke-linejoin="round"/>
<circle cx="284.8" cy="493.6" r="7.8" fill="none" stroke="#151515" stroke-width="3.4"/>
<path d="M250.4,496.4 C250.1,497.1 249.6,499.73 248.6,500.6 C247.6,501.47 245.7,502.03 244.4,501.6 C243.1,501.17 241.43,499.67 240.8,498 C240.17,496.33 239.87,493.5 240.6,491.6 C241.33,489.7 243.27,487.53 245.2,486.6 C247.13,485.67 249.82,485.43 252.2,486 C254.58,486.57 257.12,488.33 259.5,490 C261.88,491.67 264.25,494.25 266.5,496 C268.75,497.75 270.92,499.63 273,500.5 C275.08,501.37 278,501.08 279,501.2" fill="none" stroke="#fff" stroke-width="1.35" stroke-linecap="round" stroke-linejoin="round"/>
<path d="M319.2,496.4 C319.5,497.1 320,499.73 321,500.6 C322,501.47 323.9,502.03 325.2,501.6 C326.5,501.17 328.17,499.67 328.8,498 C329.43,496.33 329.73,493.5 329,491.6 C328.27,489.7 326.33,487.53 324.4,486.6 C322.47,485.67 319.78,485.43 317.4,486 C315.02,486.57 312.48,488.33 310.1,490 C307.72,491.67 305.35,494.25 303.1,496 C300.85,497.75 298.68,499.63 296.6,500.5 C294.52,501.37 291.6,501.08 290.6,501.2" fill="none" stroke="#fff" stroke-width="1.35" stroke-linecap="round" stroke-linejoin="round"/>
<circle cx="284.8" cy="493.6" r="7.8" fill="none" stroke="#fff" stroke-width="2.1"/>
<line x1="218" y1="480.9" x2="228" y2="480.9" stroke="#151515" stroke-width="0.7" />
<line x1="218" y1="506.4" x2="228" y2="506.4" stroke="#151515" stroke-width="0.7" />
<line x1="222.5" y1="463.8" x2="222.5" y2="480.9" stroke="#151515" stroke-width="0.7" />
<line x1="222.5" y1="506.4" x2="222.5" y2="523.7" stroke="#151515" stroke-width="0.7" />
<polygon points="222.5,480.9 221.25,472.3 223.75,472.3" fill="#151515" stroke="none" stroke-width="0"/>
<polygon points="222.5,506.4 223.75,515 221.25,515" fill="#151515" stroke="none" stroke-width="0"/>
<text x="228.1" y="500.2" font-size="15.2" transform="rotate(-90 228.1 500.2)" textLength="12.8" lengthAdjust="spacingAndGlyphs" fill="#111" >6"</text>
<rect x="228.5" y="191" width="2.8" height="9" rx="0" fill="none" stroke="#555" stroke-width="0.6" />
<rect x="228.5" y="308" width="2.8" height="9" rx="0" fill="none" stroke="#555" stroke-width="0.6" />
<rect x="228.5" y="425" width="2.8" height="9" rx="0" fill="none" stroke="#555" stroke-width="0.6" />
<circle cx="363.7" cy="210.5" r="2" fill="#fff" stroke="#555" stroke-width="0.5"/>
<line x1="366.6" y1="208.9" x2="366.6" y2="212.1" stroke="#222" stroke-width="1.2" />
<circle cx="363.7" cy="480.3" r="2" fill="#fff" stroke="#555" stroke-width="0.5"/>
<line x1="366.6" y1="478.7" x2="366.6" y2="481.9" stroke="#222" stroke-width="1.2" />
<line x1="189.8" y1="203.7" x2="203" y2="191" stroke="#222" stroke-width="0.65" />
<circle cx="203" cy="191" r="0.9" fill="#222" stroke="none" stroke-width="0"/>
<rect x="130" y="193.2" width="59.8" height="23.7" rx="0" fill="#fff" stroke="#777" stroke-width="0.7" />
<text x="131.9" y="202" font-size="8.8" textLength="55.9" lengthAdjust="spacingAndGlyphs" fill="#111" >Hinge:4"x Ø1"</text>
<text x="131.9" y="212.6" font-size="8.8" textLength="37" lengthAdjust="spacingAndGlyphs" fill="#111" >Door (3x)</text>
<line x1="190.6" y1="262.6" x2="241.6" y2="259.7" stroke="#222" stroke-width="0.65" />
<circle cx="241.6" cy="259.7" r="0.9" fill="#222" stroke="none" stroke-width="0"/>
<rect x="164.3" y="252.4" width="26.3" height="17" rx="0" fill="#fff" stroke="#777" stroke-width="0.7" />
<text x="165.9" y="263.6" font-size="8.8" fill="#111" >Sq.</text>
<text x="183.6" y="259.4" font-size="5.4" text-anchor="middle" fill="#111" >5</text>
<text x="183.6" y="265.8" font-size="5.4" text-anchor="middle" fill="#111" >8</text>
<line x1="182.1" y1="260.6" x2="185.1" y2="260.6" stroke="#111" stroke-width="0.45" />
<line x1="186.4" y1="256.6" x2="186.4" y2="258.5" stroke="#111" stroke-width="0.8" />
<line x1="187.5" y1="256.6" x2="187.5" y2="258.5" stroke="#111" stroke-width="0.8" />
<path d="M189.3,332.8 L361.1,344.0" fill="none" stroke="#222" stroke-width="0.6" />
<circle cx="361.1" cy="344" r="0.8" fill="#222" stroke="none" stroke-width="0"/>
<rect x="118.2" y="322.8" width="71.1" height="12.7" rx="0" fill="#fff" stroke="#777" stroke-width="0.7" />
<text x="120" y="331.6" font-size="8.8" textLength="67.5" lengthAdjust="spacingAndGlyphs" fill="#111" >Roller catch  (1x)</text>
<line x1="187.5" y1="426.1" x2="229.4" y2="428.1" stroke="#222" stroke-width="0.65" />
<rect x="125.4" y="416.2" width="62.1" height="26" rx="0" fill="#fff" stroke="#777" stroke-width="0.7" />
<text x="127.6" y="427" font-size="8.6" textLength="33.1" lengthAdjust="spacingAndGlyphs" fill="#111" >Hinge: Ø</text>
<text x="162" y="422.7" font-size="4.7" text-anchor="middle" fill="#111" >5</text>
<text x="162" y="429.4" font-size="4.7" text-anchor="middle" fill="#111" >8</text>
<line x1="160.6" y1="423.9" x2="163.4" y2="423.9" stroke="#111" stroke-width="0.45" />
<line x1="165.8" y1="420.5" x2="165.8" y2="422.4" stroke="#111" stroke-width="0.8" />
<line x1="166.9" y1="420.5" x2="166.9" y2="422.4" stroke="#111" stroke-width="0.8" />
<text x="168.6" y="427" font-size="8.6" fill="#111" >x2</text>
<text x="179.6" y="422.7" font-size="4.7" text-anchor="middle" fill="#111" >1</text>
<text x="179.6" y="429.4" font-size="4.7" text-anchor="middle" fill="#111" >4</text>
<line x1="178.2" y1="423.9" x2="181" y2="423.9" stroke="#111" stroke-width="0.45" />
<line x1="182.6" y1="420.5" x2="182.6" y2="422.4" stroke="#111" stroke-width="0.8" />
<line x1="183.7" y1="420.5" x2="183.7" y2="422.4" stroke="#111" stroke-width="0.8" />
<text x="127.6" y="437.5" font-size="8.6" textLength="40.4" lengthAdjust="spacingAndGlyphs" fill="#111" >Glass (3x)</text>
<path d="M189,469.6 L207.2,469.6 L207.2,473.5" fill="none" stroke="#222" stroke-width="0.9" />
<rect x="137.4" y="459.5" width="51.6" height="25.8" rx="0" fill="#fff" stroke="#777" stroke-width="0.7" />
<text x="186.3" y="469" font-size="8.8" text-anchor="end" textLength="38.2" lengthAdjust="spacingAndGlyphs" fill="#111" >Door stop</text>
<text x="139.2" y="481.4" font-size="8.6" textLength="25.8" lengthAdjust="spacingAndGlyphs" fill="#111" >PTR: 1</text>
<text x="167" y="477.1" font-size="4.7" text-anchor="middle" fill="#111" >1</text>
<text x="167" y="483.8" font-size="4.7" text-anchor="middle" fill="#111" >4</text>
<line x1="165.6" y1="478.3" x2="168.4" y2="478.3" stroke="#111" stroke-width="0.45" />
<line x1="169.2" y1="474.9" x2="169.2" y2="476.8" stroke="#111" stroke-width="0.8" />
<line x1="170.3" y1="474.9" x2="170.3" y2="476.8" stroke="#111" stroke-width="0.8" />
<text x="171.6" y="481.4" font-size="8.6" fill="#111" >x</text>
<text x="182" y="477.1" font-size="4.7" text-anchor="middle" fill="#111" >3</text>
<text x="182" y="483.8" font-size="4.7" text-anchor="middle" fill="#111" >4</text>
<line x1="180.6" y1="478.3" x2="183.4" y2="478.3" stroke="#111" stroke-width="0.45" />
<line x1="184.6" y1="474.9" x2="184.6" y2="476.8" stroke="#111" stroke-width="0.8" />
<line x1="185.7" y1="474.9" x2="185.7" y2="476.8" stroke="#111" stroke-width="0.8" />
<line x1="189.7" y1="526.9" x2="219.3" y2="534.7" stroke="#222" stroke-width="0.65" />
<polygon points="219.8,534.8 216.21,534.67 216.63,533.12" fill="#151515" stroke="none" stroke-width="0"/>
<rect x="138.7" y="516.3" width="51" height="22.9" rx="0" fill="#fff" stroke="#777" stroke-width="0.7" />
<text x="141.4" y="525.8" font-size="8.8" textLength="38.6" lengthAdjust="spacingAndGlyphs" fill="#111" >Threshold</text>
<text x="140.8" y="536.4" font-size="8.8" textLength="47.1" lengthAdjust="spacingAndGlyphs" fill="#111" >(See Detail)</text>
<rect x="-10" y="102" width="37.4" height="22.6" rx="2" fill="none" stroke="#333" stroke-width="2.0" />
<text x="1" y="118" font-size="10.4" textLength="17.4" lengthAdjust="spacingAndGlyphs" fill="#111" >1/2"</text>
<rect x="-10" y="128.2" width="37.9" height="78.1" rx="2" fill="none" stroke="#c6c6c6" stroke-width="1.2" />
<rect x="-10" y="129.9" width="36.3" height="74.7" rx="1.4" fill="none" stroke="#858585" stroke-width="0.8" />
<text x="7.5" y="157.4" font-size="10.9" transform="rotate(90 7.5 157.4)" textLength="25.2" lengthAdjust="spacingAndGlyphs" fill="#111" >6"x2"</text>
<rect x="28.5" y="191.2" width="7.4" height="15.2" rx="1.8" fill="#fff" stroke="#333" stroke-width="1.8" />
<rect x="37.2" y="200.5" width="3.5" height="23.7" fill="#fff" stroke="none"/>
<path d="M37.2,203L39.7,200.5M37.2,205.5L40.7,202M37.2,208L40.7,204.5M37.2,210.5L40.7,207M37.2,213L40.7,209.5M37.2,215.5L40.7,212M37.2,218L40.7,214.5M37.2,220.5L40.7,217M37.2,223L40.7,219.5M38.5,224.2L40.7,222" fill="none" stroke="#1a1a1a" stroke-width="0.78"/>
<rect x="37.2" y="200.5" width="3.5" height="23.7" fill="none" stroke="#111" stroke-width="0.7999999999999999"/>
<rect x="37.2" y="259.3" width="3.5" height="23.3" fill="#fff" stroke="none"/>
<path d="M37.2,261.8L39.7,259.3M37.2,264.3L40.7,260.8M37.2,266.8L40.7,263.3M37.2,269.3L40.7,265.8M37.2,271.8L40.7,268.3M37.2,274.3L40.7,270.8M37.2,276.8L40.7,273.3M37.2,279.3L40.7,275.8M37.2,281.8L40.7,278.3M38.9,282.6L40.7,280.8" fill="none" stroke="#1a1a1a" stroke-width="0.78"/>
<rect x="37.2" y="259.3" width="3.5" height="23.3" fill="none" stroke="#111" stroke-width="0.7999999999999999"/>
<rect x="14.1" y="208.4" width="23.1" height="3.2" fill="#fff" stroke="none"/>
<path d="M14.1,210.9L16.6,208.4M15.9,211.6L19.1,208.4M18.4,211.6L21.6,208.4M20.9,211.6L24.1,208.4M23.4,211.6L26.6,208.4M25.9,211.6L29.1,208.4M28.4,211.6L31.6,208.4M30.9,211.6L34.1,208.4M33.4,211.6L36.6,208.4M35.9,211.6L37.2,210.3" fill="none" stroke="#1a1a1a" stroke-width="0.78"/>
<rect x="14.1" y="208.4" width="23.1" height="3.2" fill="none" stroke="#111" stroke-width="0.7999999999999999"/>
<rect x="14.1" y="208.4" width="3.6" height="24" fill="#fff" stroke="none"/>
<path d="M14.1,210.9L16.6,208.4M14.1,213.4L17.7,209.8M14.1,215.9L17.7,212.3M14.1,218.4L17.7,214.8M14.1,220.9L17.7,217.3M14.1,223.4L17.7,219.8M14.1,225.9L17.7,222.3M14.1,228.4L17.7,224.8M14.1,230.9L17.7,227.3M15.1,232.4L17.7,229.8M17.6,232.4L17.7,232.3" fill="none" stroke="#1a1a1a" stroke-width="0.78"/>
<rect x="14.1" y="208.4" width="3.6" height="24" fill="none" stroke="#111" stroke-width="0.7999999999999999"/>
<rect x="17.7" y="221.4" width="23" height="2.8" fill="#fff" stroke="none"/>
<path d="M17.7,223.9L20.2,221.4M19.9,224.2L22.7,221.4M22.4,224.2L25.2,221.4M24.9,224.2L27.7,221.4M27.4,224.2L30.2,221.4M29.9,224.2L32.7,221.4M32.4,224.2L35.2,221.4M34.9,224.2L37.7,221.4M37.4,224.2L40.2,221.4M39.9,224.2L40.7,223.4" fill="none" stroke="#1a1a1a" stroke-width="0.78"/>
<rect x="17.7" y="221.4" width="23" height="2.8" fill="none" stroke="#111" stroke-width="0.7999999999999999"/>
<rect x="17.7" y="259.3" width="23" height="2.8" fill="#fff" stroke="none"/>
<path d="M17.7,261.8L20.2,259.3M19.9,262.1L22.7,259.3M22.4,262.1L25.2,259.3M24.9,262.1L27.7,259.3M27.4,262.1L30.2,259.3M29.9,262.1L32.7,259.3M32.4,262.1L35.2,259.3M34.9,262.1L37.7,259.3M37.4,262.1L40.2,259.3M39.9,262.1L40.7,261.3" fill="none" stroke="#1a1a1a" stroke-width="0.78"/>
<rect x="17.7" y="259.3" width="23" height="2.8" fill="none" stroke="#111" stroke-width="0.7999999999999999"/>
<rect x="14.1" y="251.3" width="3.6" height="23.5" fill="#fff" stroke="none"/>
<path d="M14.1,253.8L16.6,251.3M14.1,256.3L17.7,252.7M14.1,258.8L17.7,255.2M14.1,261.3L17.7,257.7M14.1,263.8L17.7,260.2M14.1,266.3L17.7,262.7M14.1,268.8L17.7,265.2M14.1,271.3L17.7,267.7M14.1,273.8L17.7,270.2M15.6,274.8L17.7,272.7" fill="none" stroke="#1a1a1a" stroke-width="0.78"/>
<rect x="14.1" y="251.3" width="3.6" height="23.5" fill="none" stroke="#111" stroke-width="0.7999999999999999"/>
<rect x="14.1" y="271.3" width="23.1" height="3.5" fill="#fff" stroke="none"/>
<path d="M14.1,273.8L16.6,271.3M15.6,274.8L19.1,271.3M18.1,274.8L21.6,271.3M20.6,274.8L24.1,271.3M23.1,274.8L26.6,271.3M25.6,274.8L29.1,271.3M28.1,274.8L31.6,271.3M30.6,274.8L34.1,271.3M33.1,274.8L36.6,271.3M35.6,274.8L37.2,273.2" fill="none" stroke="#1a1a1a" stroke-width="0.78"/>
<rect x="14.1" y="271.3" width="23.1" height="3.5" fill="none" stroke="#111" stroke-width="0.7999999999999999"/>
<rect x="17.9" y="211.8" width="19.1" height="9.4" fill="#fff"/>
<rect x="17.9" y="262.3" width="19.1" height="8.8" fill="#fff"/>
<rect x="33.1" y="224.2" width="7.6" height="8.2" fill="#fff" stroke="none"/>
<path d="M33.1,230.7L34.8,232.4M33.1,229L36.5,232.4M33.1,227.3L38.2,232.4M33.1,225.6L39.9,232.4M33.4,224.2L40.7,231.5M35.1,224.2L40.7,229.8M36.8,224.2L40.7,228.1M38.5,224.2L40.7,226.4M40.2,224.2L40.7,224.7" fill="none" stroke="#1a1a1a" stroke-width="0.62"/>
<rect x="33.1" y="224.2" width="7.6" height="8.2" fill="none" stroke="#111" stroke-width="0.7999999999999999"/>
<rect x="33.1" y="251.3" width="7.6" height="8" fill="#fff" stroke="none"/>
<path d="M33.1,257.6L34.8,259.3M33.1,255.9L36.5,259.3M33.1,254.2L38.2,259.3M33.1,252.5L39.9,259.3M33.6,251.3L40.7,258.4M35.3,251.3L40.7,256.7M37,251.3L40.7,255M38.7,251.3L40.7,253.3M40.4,251.3L40.7,251.6" fill="none" stroke="#1a1a1a" stroke-width="0.62"/>
<rect x="33.1" y="251.3" width="7.6" height="8" fill="none" stroke="#111" stroke-width="0.7999999999999999"/>
<line x1="18.9" y1="224.2" x2="18.9" y2="259.3" stroke="#1a1a1a" stroke-width="0.85" />
<line x1="21.7" y1="224.2" x2="21.7" y2="259.3" stroke="#1a1a1a" stroke-width="0.85" />
<line x1="28" y1="224.2" x2="28" y2="259.3" stroke="#1a1a1a" stroke-width="0.85" />
<line x1="30.9" y1="224.2" x2="30.9" y2="259.3" stroke="#1a1a1a" stroke-width="0.85" />
<g transform="translate(44.9,225.4) rotate(90) scale(0.82)">
<text x="2.3" y="-6.6" font-size="9.4" text-anchor="middle" fill="#111" >1</text>
<text x="2.3" y="3" font-size="9.4" text-anchor="middle" fill="#111" >2</text>
<line x1="-0.3" y1="-5.4" x2="4.9" y2="-5.4" stroke="#111" stroke-width="0.5" />
<line x1="6.05" y1="-10.2" x2="6.05" y2="-7" stroke="#111" stroke-width="1.3" />
<line x1="8.55" y1="-10.2" x2="8.55" y2="-7" stroke="#111" stroke-width="1.3" />
<text x="9.9" y="0" font-size="13.2" fill="#111" >x</text>
<text x="19.2" y="-6.6" font-size="9.4" text-anchor="middle" fill="#111" >1</text>
<text x="19.2" y="3" font-size="9.4" text-anchor="middle" fill="#111" >2</text>
<line x1="16.6" y1="-5.4" x2="21.8" y2="-5.4" stroke="#111" stroke-width="0.5" />
<line x1="23.05" y1="-10.2" x2="23.05" y2="-7" stroke="#111" stroke-width="1.3" />
<line x1="25.55" y1="-10.2" x2="25.55" y2="-7" stroke="#111" stroke-width="1.3" />
</g>
<line x1="41" y1="249.5" x2="42.2" y2="249.5" stroke="#555" stroke-width="0.5" />
<line x1="42.2" y1="249.5" x2="42.2" y2="251.5" stroke="#555" stroke-width="0.5" />
<line x1="-5" y1="277" x2="28.2" y2="277" stroke="#333" stroke-width="1.9" />
<line x1="27.4" y1="277" x2="27.4" y2="354.8" stroke="#333" stroke-width="1.8" />
<line x1="-5" y1="354.5" x2="28.2" y2="354.5" stroke="#333" stroke-width="1.5" />
<text x="7.5" y="305.3" font-size="10.9" transform="rotate(90 7.5 305.3)" textLength="24.4" lengthAdjust="spacingAndGlyphs" fill="#111" >6"x2"</text>
<rect x="28.3" y="277.4" width="7.1" height="14.6" rx="1.8" fill="#fff" stroke="#333" stroke-width="1.8" />
<path d="M32.2,285.3 L44.0,285.3 L44.0,296" fill="none" stroke="#888" stroke-width="0.6" />
<g transform="translate(37.0,298.8) rotate(90) scale(0.82)">
<text x="0" y="0" font-size="13.2" fill="#111" >1</text>
<line x1="7.85" y1="-10.2" x2="7.85" y2="-7" stroke="#111" stroke-width="1.3" />
<line x1="10.35" y1="-10.2" x2="10.35" y2="-7" stroke="#111" stroke-width="1.3" />
<text x="10.6" y="0" font-size="13.2" fill="#111" >x</text>
<text x="19.9" y="-6.6" font-size="9.4" text-anchor="middle" fill="#111" >1</text>
<text x="19.9" y="3" font-size="9.4" text-anchor="middle" fill="#111" >2</text>
<line x1="17.3" y1="-5.4" x2="22.5" y2="-5.4" stroke="#111" stroke-width="0.5" />
<line x1="24.25" y1="-10.2" x2="24.25" y2="-7" stroke="#111" stroke-width="1.3" />
<line x1="26.75" y1="-10.2" x2="26.75" y2="-7" stroke="#111" stroke-width="1.3" />
</g>
<rect x="-5" y="355.3" width="30.9" height="8.2" fill="#fff" stroke="none"/>
<path d="M-5,357.8L-2.5,355.3M-5,360.3L0,355.3M-5,362.8L2.5,355.3M-3.2,363.5L5,355.3M-0.7,363.5L7.5,355.3M1.8,363.5L10,355.3M4.3,363.5L12.5,355.3M6.8,363.5L15,355.3M9.3,363.5L17.5,355.3M11.8,363.5L20,355.3M14.3,363.5L22.5,355.3M16.8,363.5L25,355.3M19.3,363.5L25.9,356.9M21.8,363.5L25.9,359.4M24.3,363.5L25.9,361.9" fill="none" stroke="#1a1a1a" stroke-width="0.78"/>
<rect x="-5" y="355.3" width="30.9" height="8.2" fill="none" stroke="#111" stroke-width="0.7999999999999999"/>
<rect x="-5" y="393.1" width="30.9" height="8.2" fill="#fff" stroke="none"/>
<path d="M-5,395.6L-2.5,393.1M-5,398.1L0,393.1M-5,400.6L2.5,393.1M-3.2,401.3L5,393.1M-0.7,401.3L7.5,393.1M1.8,401.3L10,393.1M4.3,401.3L12.5,393.1M6.8,401.3L15,393.1M9.3,401.3L17.5,393.1M11.8,401.3L20,393.1M14.3,401.3L22.5,393.1M16.8,401.3L25,393.1M19.3,401.3L25.9,394.7M21.8,401.3L25.9,397.2M24.3,401.3L25.9,399.7" fill="none" stroke="#1a1a1a" stroke-width="0.78"/>
<rect x="-5" y="393.1" width="30.9" height="8.2" fill="none" stroke="#111" stroke-width="0.7999999999999999"/>
<rect x="-5" y="372.9" width="12.6" height="7.6" fill="#fff" stroke="none"/>
<path d="M-5,378.8L-3.3,380.5M-5,377.1L-1.6,380.5M-5,375.4L0.1,380.5M-5,373.7L1.8,380.5M-4.1,372.9L3.5,380.5M-2.4,372.9L5.2,380.5M-0.7,372.9L6.9,380.5M1,372.9L7.6,379.5M2.7,372.9L7.6,377.8M4.4,372.9L7.6,376.1M6.1,372.9L7.6,374.4" fill="none" stroke="#1a1a1a" stroke-width="0.62"/>
<rect x="-5" y="372.9" width="12.6" height="7.6" fill="none" stroke="#111" stroke-width="0.7999999999999999"/>
<rect x="7.6" y="355.8" width="1.9" height="45" fill="#fff"/>
<rect x="15.8" y="355.8" width="1.6" height="45" fill="#fff"/>
<rect x="9.9" y="363.8" width="5.6" height="29" fill="#fff"/>
<line x1="7.6" y1="355.3" x2="7.6" y2="401.3" stroke="#1a1a1a" stroke-width="0.9" />
<line x1="9.5" y1="355.3" x2="9.5" y2="401.3" stroke="#1a1a1a" stroke-width="0.9" />
<line x1="15.8" y1="355.3" x2="15.8" y2="401.3" stroke="#1a1a1a" stroke-width="0.9" />
<line x1="17.4" y1="355.3" x2="17.4" y2="401.3" stroke="#1a1a1a" stroke-width="0.9" />
<line x1="9.5" y1="363.5" x2="15.8" y2="363.5" stroke="#222" stroke-width="0.6" />
<line x1="9.5" y1="393.1" x2="15.8" y2="393.1" stroke="#222" stroke-width="0.6" />
<g transform="translate(30.3,368.4) rotate(90) scale(0.82)">
<text x="2.3" y="-6.6" font-size="9.4" text-anchor="middle" fill="#111" >1</text>
<text x="2.3" y="3" font-size="9.4" text-anchor="middle" fill="#111" >2</text>
<line x1="-0.3" y1="-5.4" x2="4.9" y2="-5.4" stroke="#111" stroke-width="0.5" />
<line x1="6.05" y1="-10.2" x2="6.05" y2="-7" stroke="#111" stroke-width="1.3" />
<line x1="8.55" y1="-10.2" x2="8.55" y2="-7" stroke="#111" stroke-width="1.3" />
<text x="9.9" y="0" font-size="13.2" fill="#111" >x</text>
<text x="19.2" y="-6.6" font-size="9.4" text-anchor="middle" fill="#111" >1</text>
<text x="19.2" y="3" font-size="9.4" text-anchor="middle" fill="#111" >2</text>
<line x1="16.6" y1="-5.4" x2="21.8" y2="-5.4" stroke="#111" stroke-width="0.5" />
<line x1="23.05" y1="-10.2" x2="23.05" y2="-7" stroke="#111" stroke-width="1.3" />
<line x1="25.55" y1="-10.2" x2="25.55" y2="-7" stroke="#111" stroke-width="1.3" />
</g>
<line x1="27" y1="392.6" x2="28.6" y2="391.6" stroke="#777" stroke-width="0.5" />
<line x1="-5" y1="402.2" x2="27.8" y2="402.2" stroke="#333" stroke-width="1.5" />
<line x1="27.4" y1="402.2" x2="27.4" y2="479.5" stroke="#333" stroke-width="1.8" />
<line x1="-5" y1="478.9" x2="28.6" y2="478.9" stroke="#222" stroke-width="1.6" />
<text x="7.5" y="430" font-size="10.9" transform="rotate(90 7.5 430)" textLength="24.4" lengthAdjust="spacingAndGlyphs" fill="#111" >6"x2"</text>
<line x1="9.5" y1="479" x2="9.5" y2="488" stroke="#222" stroke-width="1.4" />
<line x1="14.5" y1="479" x2="14.5" y2="488" stroke="#222" stroke-width="1.4" />
<line x1="19.6" y1="479" x2="19.6" y2="488" stroke="#222" stroke-width="1.4" />
<line x1="24.6" y1="479" x2="24.6" y2="488" stroke="#222" stroke-width="1.4" />
<line x1="5" y1="479.8" x2="27" y2="479.8" stroke="#222" stroke-width="1.2" />
<path d="M-5,487.9 L25.5,487.9 Q27.5,487.9 27.5,489.9 L27.5,508.6 Q27.5,510.6 25.5,510.6 L-5,510.6" fill="none" stroke="#333" stroke-width="1.5" />
<path d="M-5,509.0 L25,509.0" fill="none" stroke="#777" stroke-width="0.6" />
<line x1="29" y1="479.3" x2="42.9" y2="479.3" stroke="#333" stroke-width="0.6" />
<line x1="29" y1="487.5" x2="60.4" y2="487.5" stroke="#333" stroke-width="0.6" />
<line x1="29" y1="510.9" x2="60.4" y2="510.9" stroke="#999" stroke-width="0.6" />
<path d="M45,457.5 L38.9,457.5 L38.9,479.3" fill="none" stroke="#333" stroke-width="0.6" />
<polygon points="38.9,479.4 38.05,474.8 39.75,474.8" fill="#151515" stroke="none" stroke-width="0"/>
<line x1="38.9" y1="487.5" x2="38.9" y2="496.7" stroke="#333" stroke-width="0.6" />
<polygon points="38.9,487.4 39.75,492 38.05,492" fill="#151515" stroke="none" stroke-width="0"/>
<text x="44.4" y="458.3" font-size="10.7" fill="#111" >1</text>
<line x1="44.5" y1="464.5" x2="53.7" y2="451.2" stroke="#333" stroke-width="0.6" />
<text x="49.9" y="466.1" font-size="10.7" fill="#111" >2</text>
<line x1="56.95" y1="453.6" x2="56.95" y2="455.9" stroke="#111" stroke-width="1.1" />
<line x1="59.05" y1="453.6" x2="59.05" y2="455.9" stroke="#111" stroke-width="1.1" />
<line x1="56.8" y1="487.5" x2="56.8" y2="524.4" stroke="#777" stroke-width="0.6" stroke-dasharray="0.8 0.6"/>
<polygon points="56.8,487.5 57.65,492.3 55.95,492.3" fill="#151515" stroke="none" stroke-width="0"/>
<polygon points="56.8,510.9 55.95,506.1 57.65,506.1" fill="#151515" stroke="none" stroke-width="0"/>
<line x1="52" y1="524.6" x2="56.8" y2="524.6" stroke="#555" stroke-width="0.6" />
<line x1="-5" y1="524.5" x2="27.5" y2="524.5" stroke="#333" stroke-width="0.6" />
<polygon points="27.8,524.5 22.8,525.3 22.8,523.7" fill="#151515" stroke="none" stroke-width="0"/>
<line x1="28" y1="510.9" x2="28" y2="527" stroke="#777" stroke-width="0.6" stroke-dasharray="0.8 0.6"/>
<text x="30.9" y="528.5" font-size="11.4" fill="#111" >1</text>
<text x="37.2" y="524.3" font-size="10.4" fill="#111" >1</text>
<line x1="36.1" y1="530.9" x2="46" y2="516.9" stroke="#333" stroke-width="0.6" />
<text x="41.9" y="532" font-size="10.7" fill="#111" >2</text>
<line x1="48.8" y1="520.5" x2="48.8" y2="523.5" stroke="#111" stroke-width="1.2" />
<line x1="50.9" y1="520.5" x2="50.9" y2="523.5" stroke="#111" stroke-width="1.2" />
<circle cx="500.3" cy="169.1" r="10" fill="none" stroke="#151515" stroke-width="0.8"/>
<circle cx="500.3" cy="169.1" r="7.8" fill="none" stroke="#151515" stroke-width="0.8"/>
<line x1="492.5" y1="169.1" x2="508.1" y2="169.1" stroke="#151515" stroke-width="0.6" />
<line x1="500.3" y1="161.3" x2="500.3" y2="176.9" stroke="#151515" stroke-width="0.6" />
<circle cx="500.3" cy="169.1" r="1.5" fill="#111" stroke="none" stroke-width="0"/>
<line x1="510" y1="164.4" x2="518.9" y2="161.6" stroke="#151515" stroke-width="0.6" />
<text x="519.9" y="164.9" font-size="7.8" textLength="14.4" lengthAdjust="spacingAndGlyphs" fill="#111" >Ø1"</text>
<rect x="468.3" y="179" width="29.9" height="79.6" rx="2.2" fill="none" stroke="#222" stroke-width="1.0" />
<rect x="470" y="180.7" width="26.5" height="76.2" rx="1.2" fill="none" stroke="#444" stroke-width="0.6" />
<text x="489.1" y="246.6" font-size="13.4" transform="rotate(-90 489.1 246.6)" textLength="53" lengthAdjust="spacingAndGlyphs" fill="#111" >4"x1-1/2"</text>
<path d="M603,178.9 L504.2,178.9 Q501.8,178.9 501.8,181.3 L501.8,216.6 Q501.8,219 504.2,219 L603,219" fill="none" stroke="#c6c6c6" stroke-width="1.3" />
<path d="M602.5,180.6 L505.2,180.6 Q503.6,180.6 503.6,182.2 L503.6,215.5 Q503.6,217.1 505.2,217.1 L602.5,217.1" fill="none" stroke="#858585" stroke-width="0.8" />
<line x1="602.6" y1="178.9" x2="602.6" y2="219" stroke="#999" stroke-width="0.9" />
<text x="553.7" y="204.9" font-size="13.0" text-anchor="middle" textLength="30.6" lengthAdjust="spacingAndGlyphs" fill="#111" >6"x2"</text>
<rect x="502.3" y="227.4" width="14.3" height="23.2" rx="2.4" fill="#fff" stroke="#333" stroke-width="1.9" />
<path d="M508.5,238.5 L508.5,262.1 L511.9,262.1" fill="none" stroke="#888" stroke-width="0.6" />
<text x="514.9" y="267.2" font-size="13.4" textLength="58.8" lengthAdjust="spacingAndGlyphs" fill="#111" >Door stop</text>
<text x="540.3" y="287.4" font-size="13.0" fill="#111" >1</text>
<text x="549.6" y="281.1" font-size="7.2" text-anchor="middle" fill="#111" >1</text>
<text x="549.6" y="290" font-size="7.2" text-anchor="middle" fill="#111" >4</text>
<line x1="547.22" y1="282.8" x2="551.98" y2="282.8" stroke="#111" stroke-width="0.6" />
<line x1="553.3" y1="277.3" x2="553.3" y2="280.1" stroke="#111" stroke-width="1.2" />
<line x1="555.4" y1="277.3" x2="555.4" y2="280.1" stroke="#111" stroke-width="1.2" />
<text x="557" y="287.4" font-size="13.0" fill="#111" >x</text>
<text x="566.6" y="281.1" font-size="7.2" text-anchor="middle" fill="#111" >3</text>
<text x="566.6" y="290" font-size="7.2" text-anchor="middle" fill="#111" >4</text>
<line x1="564.22" y1="282.8" x2="568.98" y2="282.8" stroke="#111" stroke-width="0.6" />
<line x1="570.8" y1="277.3" x2="570.8" y2="280.1" stroke="#111" stroke-width="1.2" />
<line x1="572.9" y1="277.3" x2="572.9" y2="280.1" stroke="#111" stroke-width="1.2" />
<circle cx="588.7" cy="162.8" r="5.4" fill="#fff" stroke="#151515" stroke-width="0.8"/>
<line x1="587.4" y1="162.8" x2="590" y2="162.8" stroke="#151515" stroke-width="0.5" />
<line x1="588.7" y1="161.5" x2="588.7" y2="164.1" stroke="#151515" stroke-width="0.5" />
<line x1="591.8" y1="158.4" x2="595.4" y2="153.6" stroke="#151515" stroke-width="0.6" />
<text x="599" y="157" font-size="13.2" transform="rotate(-56 599 157)" textLength="36.5" lengthAdjust="spacingAndGlyphs" fill="#111" >Ø5/8"</text>
<rect x="582.4" y="170.7" width="19.5" height="6.7" rx="2.0" fill="#fff" stroke="#2a2a2a" stroke-width="1.5" />
<rect x="593.6" y="162.2" width="42.2" height="4.9" fill="#fff" stroke="none"/>
<path d="M593.6,164.7L596.1,162.2M593.7,167.1L598.6,162.2M596.2,167.1L601.1,162.2M598.7,167.1L603.6,162.2M601.2,167.1L606.1,162.2M603.7,167.1L608.6,162.2M606.2,167.1L611.1,162.2M608.7,167.1L613.6,162.2M611.2,167.1L616.1,162.2M613.7,167.1L618.6,162.2M616.2,167.1L621.1,162.2M618.7,167.1L623.6,162.2M621.2,167.1L626.1,162.2M623.7,167.1L628.6,162.2M626.2,167.1L631.1,162.2M628.7,167.1L633.6,162.2M631.2,167.1L635.8,162.5M633.7,167.1L635.8,165" fill="none" stroke="#1a1a1a" stroke-width="0.78"/>
<rect x="593.6" y="162.2" width="42.2" height="4.9" fill="none" stroke="#111" stroke-width="0.7999999999999999"/>
<rect x="679.6" y="162.2" width="36.4" height="4.9" fill="#fff" stroke="none"/>
<path d="M679.6,164.7L682.1,162.2M679.7,167.1L684.6,162.2M682.2,167.1L687.1,162.2M684.7,167.1L689.6,162.2M687.2,167.1L692.1,162.2M689.7,167.1L694.6,162.2M692.2,167.1L697.1,162.2M694.7,167.1L699.6,162.2M697.2,167.1L702.1,162.2M699.7,167.1L704.6,162.2M702.2,167.1L707.1,162.2M704.7,167.1L709.6,162.2M707.2,167.1L712.1,162.2M709.7,167.1L714.6,162.2M712.2,167.1L716,163.3M714.7,167.1L716,165.8" fill="none" stroke="#1a1a1a" stroke-width="0.78"/>
<rect x="679.6" y="162.2" width="36.4" height="4.9" fill="none" stroke="#111" stroke-width="0.7999999999999999"/>
<rect x="604.4" y="167.1" width="4.9" height="29.5" fill="#fff" stroke="none"/>
<path d="M604.4,169.6L606.9,167.1M604.4,172.1L609.3,167.2M604.4,174.6L609.3,169.7M604.4,177.1L609.3,172.2M604.4,179.6L609.3,174.7M604.4,182.1L609.3,177.2M604.4,184.6L609.3,179.7M604.4,187.1L609.3,182.2M604.4,189.6L609.3,184.7M604.4,192.1L609.3,187.2M604.4,194.6L609.3,189.7M604.9,196.6L609.3,192.2M607.4,196.6L609.3,194.7" fill="none" stroke="#1a1a1a" stroke-width="0.78"/>
<rect x="604.4" y="167.1" width="4.9" height="29.5" fill="none" stroke="#111" stroke-width="0.7999999999999999"/>
<rect x="621.1" y="167.1" width="4.9" height="29.5" fill="#fff" stroke="none"/>
<path d="M621.1,169.6L623.6,167.1M621.1,172.1L626,167.2M621.1,174.6L626,169.7M621.1,177.1L626,172.2M621.1,179.6L626,174.7M621.1,182.1L626,177.2M621.1,184.6L626,179.7M621.1,187.1L626,182.2M621.1,189.6L626,184.7M621.1,192.1L626,187.2M621.1,194.6L626,189.7M621.6,196.6L626,192.2M624.1,196.6L626,194.7" fill="none" stroke="#1a1a1a" stroke-width="0.78"/>
<rect x="621.1" y="167.1" width="4.9" height="29.5" fill="none" stroke="#111" stroke-width="0.7999999999999999"/>
<rect x="604.4" y="191.7" width="31.4" height="4.9" fill="#fff" stroke="none"/>
<path d="M604.4,194.2L606.9,191.7M604.5,196.6L609.4,191.7M607,196.6L611.9,191.7M609.5,196.6L614.4,191.7M612,196.6L616.9,191.7M614.5,196.6L619.4,191.7M617,196.6L621.9,191.7M619.5,196.6L624.4,191.7M622,196.6L626.9,191.7M624.5,196.6L629.4,191.7M627,196.6L631.9,191.7M629.5,196.6L634.4,191.7M632,196.6L635.8,192.8M634.5,196.6L635.8,195.3" fill="none" stroke="#1a1a1a" stroke-width="0.78"/>
<rect x="604.4" y="191.7" width="31.4" height="4.9" fill="none" stroke="#111" stroke-width="0.7999999999999999"/>
<rect x="609.6" y="167.5" width="11.2" height="24" fill="#fff"/>
<rect x="689.8" y="167.1" width="4.9" height="29.5" fill="#fff" stroke="none"/>
<path d="M689.8,169.6L692.3,167.1M689.8,172.1L694.7,167.2M689.8,174.6L694.7,169.7M689.8,177.1L694.7,172.2M689.8,179.6L694.7,174.7M689.8,182.1L694.7,177.2M689.8,184.6L694.7,179.7M689.8,187.1L694.7,182.2M689.8,189.6L694.7,184.7M689.8,192.1L694.7,187.2M689.8,194.6L694.7,189.7M690.3,196.6L694.7,192.2M692.8,196.6L694.7,194.7" fill="none" stroke="#1a1a1a" stroke-width="0.78"/>
<rect x="689.8" y="167.1" width="4.9" height="29.5" fill="none" stroke="#111" stroke-width="0.7999999999999999"/>
<rect x="705.5" y="167.1" width="4.9" height="29.5" fill="#fff" stroke="none"/>
<path d="M705.5,169.6L708,167.1M705.5,172.1L710.4,167.2M705.5,174.6L710.4,169.7M705.5,177.1L710.4,172.2M705.5,179.6L710.4,174.7M705.5,182.1L710.4,177.2M705.5,184.6L710.4,179.7M705.5,187.1L710.4,182.2M705.5,189.6L710.4,184.7M705.5,192.1L710.4,187.2M705.5,194.6L710.4,189.7M706,196.6L710.4,192.2M708.5,196.6L710.4,194.7" fill="none" stroke="#1a1a1a" stroke-width="0.78"/>
<rect x="705.5" y="167.1" width="4.9" height="29.5" fill="none" stroke="#111" stroke-width="0.7999999999999999"/>
<rect x="679.6" y="191.7" width="36.4" height="4.9" fill="#fff" stroke="none"/>
<path d="M679.6,194.2L682.1,191.7M679.7,196.6L684.6,191.7M682.2,196.6L687.1,191.7M684.7,196.6L689.6,191.7M687.2,196.6L692.1,191.7M689.7,196.6L694.6,191.7M692.2,196.6L697.1,191.7M694.7,196.6L699.6,191.7M697.2,196.6L702.1,191.7M699.7,196.6L704.6,191.7M702.2,196.6L707.1,191.7M704.7,196.6L709.6,191.7M707.2,196.6L712.1,191.7M709.7,196.6L714.6,191.7M712.2,196.6L716,192.8M714.7,196.6L716,195.3" fill="none" stroke="#1a1a1a" stroke-width="0.78"/>
<rect x="679.6" y="191.7" width="36.4" height="4.9" fill="none" stroke="#111" stroke-width="0.7999999999999999"/>
<rect x="695" y="167.5" width="10.2" height="24" fill="#fff"/>
<rect x="626" y="162.2" width="9.8" height="9.8" fill="#fff" stroke="none"/>
<path d="M626,170.3L627.7,172M626,168.6L629.4,172M626,166.9L631.1,172M626,165.2L632.8,172M626,163.5L634.5,172M626.4,162.2L635.8,171.6M628.1,162.2L635.8,169.9M629.8,162.2L635.8,168.2M631.5,162.2L635.8,166.5M633.2,162.2L635.8,164.8M634.9,162.2L635.8,163.1" fill="none" stroke="#1a1a1a" stroke-width="0.62"/>
<rect x="626" y="162.2" width="9.8" height="9.8" fill="none" stroke="#111" stroke-width="0.7999999999999999"/>
<rect x="679.6" y="162.2" width="10.2" height="9.8" fill="#fff" stroke="none"/>
<path d="M679.6,170.3L681.3,172M679.6,168.6L683,172M679.6,166.9L684.7,172M679.6,165.2L686.4,172M679.6,163.5L688.1,172M680,162.2L689.8,172M681.7,162.2L689.8,170.3M683.4,162.2L689.8,168.6M685.1,162.2L689.8,166.9M686.8,162.2L689.8,165.2M688.5,162.2L689.8,163.5" fill="none" stroke="#1a1a1a" stroke-width="0.62"/>
<rect x="679.6" y="162.2" width="10.2" height="9.8" fill="none" stroke="#111" stroke-width="0.7999999999999999"/>
<line x1="626" y1="174.6" x2="689.8" y2="174.6" stroke="#1a1a1a" stroke-width="0.85" />
<line x1="626" y1="178.5" x2="689.8" y2="178.5" stroke="#1a1a1a" stroke-width="0.85" />
<line x1="626" y1="187.7" x2="689.8" y2="187.7" stroke="#1a1a1a" stroke-width="0.85" />
<line x1="626" y1="191.1" x2="689.8" y2="191.1" stroke="#1a1a1a" stroke-width="0.85" />
<line x1="712.6" y1="167" x2="712.6" y2="230.5" stroke="#111" stroke-width="1.6" />
<text x="647.9" y="150.9" font-size="9.2" text-anchor="middle" fill="#111" >1</text>
<text x="647.9" y="160.5" font-size="9.2" text-anchor="middle" fill="#111" >2</text>
<line x1="645.3" y1="152.1" x2="650.5" y2="152.1" stroke="#111" stroke-width="0.5" />
<line x1="651.65" y1="147.3" x2="651.65" y2="150.5" stroke="#111" stroke-width="1.3" />
<line x1="654.15" y1="147.3" x2="654.15" y2="150.5" stroke="#111" stroke-width="1.3" />
<text x="655.5" y="157.5" font-size="13.2" fill="#111" >x</text>
<text x="664.8" y="150.9" font-size="9.2" text-anchor="middle" fill="#111" >1</text>
<text x="664.8" y="160.5" font-size="9.2" text-anchor="middle" fill="#111" >2</text>
<line x1="662.2" y1="152.1" x2="667.4" y2="152.1" stroke="#111" stroke-width="0.5" />
<line x1="668.65" y1="147.3" x2="668.65" y2="150.5" stroke="#111" stroke-width="1.3" />
<line x1="671.15" y1="147.3" x2="671.15" y2="150.5" stroke="#111" stroke-width="1.3" />
<path d="M672.4,160.3 L678.6,160.3 L679.6,162.0" fill="none" stroke="#555" stroke-width="0.5" />
<line x1="602.5" y1="219.2" x2="614.8" y2="219.2" stroke="#888" stroke-width="0.8" />
<line x1="623" y1="219.2" x2="630.9" y2="219.2" stroke="#888" stroke-width="0.8" />
<line x1="643.7" y1="219.2" x2="655.5" y2="219.2" stroke="#888" stroke-width="0.8" />
<line x1="663.3" y1="219.2" x2="676.5" y2="219.2" stroke="#888" stroke-width="0.8" />
<line x1="688.8" y1="219.2" x2="700.6" y2="219.2" stroke="#888" stroke-width="0.8" />
<line x1="708.5" y1="219.2" x2="713" y2="219.2" stroke="#888" stroke-width="0.8" />
<line x1="602.5" y1="231.9" x2="617.2" y2="231.9" stroke="#888" stroke-width="0.8" />
<line x1="625" y1="231.9" x2="630.9" y2="231.9" stroke="#888" stroke-width="0.8" />
<line x1="643.7" y1="231.9" x2="657.4" y2="231.9" stroke="#888" stroke-width="0.8" />
<line x1="665.3" y1="231.9" x2="676.5" y2="231.9" stroke="#888" stroke-width="0.8" />
<line x1="688.8" y1="231.9" x2="702.6" y2="231.9" stroke="#888" stroke-width="0.8" />
<line x1="710.4" y1="231.9" x2="713" y2="231.9" stroke="#888" stroke-width="0.8" />
<rect x="589.3" y="219.2" width="13.2" height="12.7" fill="#fff" stroke="none"/>
<path d="M589.3,230.2L591,231.9M589.3,228.5L592.7,231.9M589.3,226.8L594.4,231.9M589.3,225.1L596.1,231.9M589.3,223.4L597.8,231.9M589.3,221.7L599.5,231.9M589.3,220L601.2,231.9M590.2,219.2L602.5,231.5M591.9,219.2L602.5,229.8M593.6,219.2L602.5,228.1M595.3,219.2L602.5,226.4M597,219.2L602.5,224.7M598.7,219.2L602.5,223M600.4,219.2L602.5,221.3M602.1,219.2L602.5,219.6" fill="none" stroke="#1a1a1a" stroke-width="0.62"/>
<rect x="589.3" y="219.2" width="13.2" height="12.7" fill="none" stroke="#111" stroke-width="0.9"/>
<rect x="630.9" y="219.2" width="12.8" height="12.7" fill="#fff" stroke="none"/>
<path d="M630.9,230.2L632.6,231.9M630.9,228.5L634.3,231.9M630.9,226.8L636,231.9M630.9,225.1L637.7,231.9M630.9,223.4L639.4,231.9M630.9,221.7L641.1,231.9M630.9,220L642.8,231.9M631.8,219.2L643.7,231.1M633.5,219.2L643.7,229.4M635.2,219.2L643.7,227.7M636.9,219.2L643.7,226M638.6,219.2L643.7,224.3M640.3,219.2L643.7,222.6M642,219.2L643.7,220.9" fill="none" stroke="#1a1a1a" stroke-width="0.62"/>
<rect x="630.9" y="219.2" width="12.8" height="12.7" fill="none" stroke="#111" stroke-width="0.9"/>
<rect x="676.5" y="219.2" width="12.3" height="12.7" fill="#fff" stroke="none"/>
<path d="M676.5,230.2L678.2,231.9M676.5,228.5L679.9,231.9M676.5,226.8L681.6,231.9M676.5,225.1L683.3,231.9M676.5,223.4L685,231.9M676.5,221.7L686.7,231.9M676.5,220L688.4,231.9M677.4,219.2L688.8,230.6M679.1,219.2L688.8,228.9M680.8,219.2L688.8,227.2M682.5,219.2L688.8,225.5M684.2,219.2L688.8,223.8M685.9,219.2L688.8,222.1M687.6,219.2L688.8,220.4" fill="none" stroke="#1a1a1a" stroke-width="0.62"/>
<rect x="676.5" y="219.2" width="12.3" height="12.7" fill="none" stroke="#111" stroke-width="0.9"/>
<path d="M637.8,231.9 L639.8,237 L641,245.4 L644.6,246.4" fill="none" stroke="#666" stroke-width="0.55" />
<text x="650.6" y="248" font-size="8.4" text-anchor="middle" fill="#111" >5</text>
<text x="650.6" y="257.6" font-size="8.4" text-anchor="middle" fill="#111" >8</text>
<line x1="648" y1="249.2" x2="653.2" y2="249.2" stroke="#111" stroke-width="0.5" />
<line x1="654.35" y1="244.4" x2="654.35" y2="247.6" stroke="#111" stroke-width="1.3" />
<line x1="656.85" y1="244.4" x2="656.85" y2="247.6" stroke="#111" stroke-width="1.3" />
<text x="658.2" y="254.6" font-size="13.2" fill="#111" >x</text>
<text x="667.5" y="248" font-size="8.4" text-anchor="middle" fill="#111" >5</text>
<text x="667.5" y="257.6" font-size="8.4" text-anchor="middle" fill="#111" >8</text>
<line x1="664.9" y1="249.2" x2="670.1" y2="249.2" stroke="#111" stroke-width="0.5" />
<line x1="671.35" y1="244.4" x2="671.35" y2="247.6" stroke="#111" stroke-width="1.3" />
<line x1="673.85" y1="244.4" x2="673.85" y2="247.6" stroke="#111" stroke-width="1.3" />
<text x="629.3" y="380.7" font-size="7.9" textLength="22" lengthAdjust="spacingAndGlyphs" fill="#111" >Ø1/4"</text>
<text x="622" y="397" font-size="7.9" textLength="21.4" lengthAdjust="spacingAndGlyphs" fill="#111" >Ø5/8"</text>
<text x="619.1" y="425.9" font-size="7.9" textLength="20" lengthAdjust="spacingAndGlyphs" fill="#111" >1 1/2"</text>
<text x="619.9" y="471.1" font-size="10.4" textLength="27.1" lengthAdjust="spacingAndGlyphs" fill="#111" >inside</text>
<text x="694.1" y="384.7" font-size="10.4" fill="#111" >outside</text>
<text x="596.9" y="487.8" font-size="10.4" fill="#111" >Std. Preparation for Installation</text>
<path d="M654.5,377.2 L664.2,377.2 L685.1,396.4" fill="none" stroke="#151515" stroke-width="0.95" />
<polygon points="685.8,397 681.67,394.7 683.16,393.08" fill="#151515" stroke="none" stroke-width="0"/>
<path d="M646.4,393.3 L656.1,393.3 L672.2,406.6" fill="none" stroke="#151515" stroke-width="0.95" />
<polygon points="672.9,407.1 668.65,405.02 670.06,403.32" fill="#151515" stroke="none" stroke-width="0"/>
<path d="M640.1,422.3 L673.8,422.3" fill="none" stroke="#151515" stroke-width="0.95" />
<path d="M673.8,382.4 L673.8,424.6" fill="none" stroke="#151515" stroke-width="0.95" />
<path d="M659.3,470.6 L659.3,390.0 L673.8,382.4 L716,405.9" fill="none" stroke="#151515" stroke-width="0.95" />
<path d="M659.3,390.0 L702.9,413.3 L702.9,428.7" fill="none" stroke="#151515" stroke-width="0.95" />
<path d="M659.3,470.6 L669.8,466.5" fill="none" stroke="#151515" stroke-width="0.95" />
<path d="M669.8,463.3 C670.5,458 674,454 679,452.5 C684,451 686.5,452.5 686.8,446 C687,439 689,434.5 695.5,433.5 C700,432.8 702,430.5 702.9,428.7 C706,427.5 710,426.5 716,425" fill="none" stroke="#151515" stroke-width="0.95" />
<path d="M669.8,466.5 L669.8,463.3 C673,462.5 678,461 683.5,457 C686.5,454.5 686,450 689.5,447.5 C693,445 699,445 702,439.2 C703.2,436.5 702.9,432 702.9,428.7" fill="none" stroke="#151515" stroke-width="0.95" />
<ellipse cx="673.9" cy="407" rx="2.8" ry="3.8" fill="none" stroke="#151515" stroke-width="0.95" transform="rotate(-25 673.9 407)"/>
<ellipse cx="687.3" cy="397.3" rx="2.8" ry="3.8" fill="none" stroke="#151515" stroke-width="0.95" transform="rotate(-25 687.3 397.3)"/>
<text x="-0.3" y="545" font-size="6.15" textLength="16.7" lengthAdjust="spacingAndGlyphs" fill="#111" >shold.</text>
<text x="1" y="550.9" font-size="6.15" textLength="61.9" lengthAdjust="spacingAndGlyphs" fill="#111" >result in extra charges.</text>
<text x="-0.3" y="558.3" font-size="6.15" textLength="244.3" lengthAdjust="spacingAndGlyphs" fill="#111" >rthing we sell and hope you are pleased with your product, if for any reason you are unsatis</text>
<text x="251.5" y="558.3" font-size="6.15" textLength="80" lengthAdjust="spacingAndGlyphs" fill="#111" >ed you can write to one of our</text>
<text x="-0.3" y="565.1" font-size="6.15" textLength="231.3" lengthAdjust="spacingAndGlyphs" fill="#111" >ow can we help you, but we do not accept returns in any of our products.Products are</text>
<text x="239.5" y="565.1" font-size="6.15" textLength="116.7" lengthAdjust="spacingAndGlyphs" fill="#111" >nal and are not eligible for returns, changes</text>
<text x="-0.3" y="572.4" font-size="6.15" textLength="288.9" lengthAdjust="spacingAndGlyphs" fill="#111" >nditions, delivery pdf and forms of payment. *Doors measurements do not include the gaps between jambs</text>
<line x1="-5" y1="574.4" x2="511" y2="574.4" stroke="#1a1a1a" stroke-width="1.3" />
<line x1="-5" y1="607.7" x2="252" y2="607.7" stroke="#1a1a1a" stroke-width="1.1" />
<line x1="-5" y1="643.6" x2="252" y2="643.6" stroke="#1a1a1a" stroke-width="1.1" />
<line x1="-5" y1="666.3" x2="252" y2="666.3" stroke="#1a1a1a" stroke-width="1.1" />
<line x1="-5" y1="684.7" x2="252" y2="684.7" stroke="#1a1a1a" stroke-width="1.1" />
<line x1="-5" y1="707" x2="673" y2="707" stroke="#1a1a1a" stroke-width="1.3" />
<line x1="251.1" y1="574.4" x2="251.1" y2="707" stroke="#1a1a1a" stroke-width="0.9" />
<line x1="252.8" y1="574.4" x2="252.8" y2="707" stroke="#1a1a1a" stroke-width="0.9" />
<line x1="112.4" y1="643.6" x2="112.4" y2="666.3" stroke="#1a1a1a" stroke-width="1.1" />
<text x="-6" y="583.7" font-size="7.4" textLength="32.5" lengthAdjust="spacingAndGlyphs" fill="#111" >HANDLE:</text>
<rect x="32.8" y="578.8" width="11.5" height="9.4" rx="0" fill="#fff" stroke="#161616" stroke-width="1.1" />
<rect x="35.4" y="580.9" width="6.5" height="5.4" rx="0" fill="#111" stroke="none" stroke-width="0" />
<text x="47" y="585.7" font-size="7.4" textLength="38.7" lengthAdjust="spacingAndGlyphs" fill="#111" >Iron handle:</text>
<line x1="85.7" y1="586.3" x2="158" y2="586.3" stroke="#1a1a1a" stroke-width="0.95" />
<text x="113.2" y="585.1" font-size="7.4" textLength="25.8" lengthAdjust="spacingAndGlyphs" fill="#111" >Custom</text>
<text x="47" y="592.8" font-size="6.3" textLength="104.4" lengthAdjust="spacingAndGlyphs" fill="#111" >(with rollercatch and deadbolt prep)</text>
<rect x="32.8" y="595.2" width="11.5" height="9.4" rx="0" fill="#fff" stroke="#161616" stroke-width="1.1" />
<text x="47" y="603.2" font-size="7.4" textLength="114.1" lengthAdjust="spacingAndGlyphs" fill="#111" >American standard double boring</text>
<rect x="170" y="578.8" width="11.5" height="9.7" rx="0" fill="#fff" stroke="#161616" stroke-width="1.1" />
<text x="186.2" y="587.9" font-size="7.4" textLength="53.6" lengthAdjust="spacingAndGlyphs" fill="#111" >Panic hardware</text>
<rect x="170" y="594.6" width="11.5" height="9.7" rx="0" fill="#fff" stroke="#161616" stroke-width="1.1" />
<text x="186.2" y="601.6" font-size="7.4" textLength="18.9" lengthAdjust="spacingAndGlyphs" fill="#111" >Other</text>
<text x="-5.6" y="616.6" font-size="7.4" textLength="28.7" lengthAdjust="spacingAndGlyphs" fill="#111" >COLOR:</text>
<rect x="-3" y="619.8" width="22.6" height="9" rx="0" fill="none" stroke="#161616" stroke-width="1.3" />
<text x="-3.4" y="626.7" font-size="7.3" textLength="18.1" lengthAdjust="spacingAndGlyphs" fill="#111" >Black</text>
<text x="26.7" y="626.7" font-size="7.1" textLength="31.9" lengthAdjust="spacingAndGlyphs" fill="#111" >Dark ORB</text>
<text x="70.6" y="626.7" font-size="7.1" textLength="41.7" lengthAdjust="spacingAndGlyphs" fill="#111" >Medium ORB</text>
<text x="124.7" y="626.7" font-size="7.1" textLength="36.4" lengthAdjust="spacingAndGlyphs" fill="#111" >Heavy ORB</text>
<text x="173.7" y="626.7" font-size="7.1" textLength="21.5" lengthAdjust="spacingAndGlyphs" fill="#111" >Pewter</text>
<text x="207.2" y="626.7" font-size="7.1" textLength="38.5" lengthAdjust="spacingAndGlyphs" fill="#111" >Antique gold</text>
<rect x="-3" y="631.6" width="12.4" height="8.8" rx="0" fill="#fff" stroke="#161616" stroke-width="1.1" />
<text x="13.6" y="638.9" font-size="7.1" textLength="28.5" lengthAdjust="spacingAndGlyphs" fill="#111" >Cerakote</text>
<rect x="61.2" y="631.8" width="11.4" height="8.8" rx="0" fill="#fff" stroke="#161616" stroke-width="1.1" />
<text x="77.2" y="638.9" font-size="7.1" textLength="23.7" lengthAdjust="spacingAndGlyphs" fill="#111" >Custom</text>
<text x="-6" y="652.3" font-size="7.4" textLength="54.1" lengthAdjust="spacingAndGlyphs" fill="#111" >ACTIVE DOOR:</text>
<rect x="44.5" y="655.3" width="11.7" height="9" rx="0" fill="#fff" stroke="#161616" stroke-width="1.1" />
<text x="59.2" y="663.3" font-size="7.4" textLength="17.6" lengthAdjust="spacingAndGlyphs" fill="#111" >Right</text>
<rect x="81.2" y="655.3" width="11.7" height="9" rx="0" fill="#fff" stroke="#161616" stroke-width="1.1" />
<rect x="83.8" y="657.4" width="6.7" height="5" rx="0" fill="#111" stroke="none" stroke-width="0" />
<text x="95.9" y="663.3" font-size="7.4" textLength="12.4" lengthAdjust="spacingAndGlyphs" fill="#111" >Left</text>
<text x="115.6" y="652.5" font-size="7.4" textLength="25.3" lengthAdjust="spacingAndGlyphs" fill="#111" >SWING</text>
<rect x="146.2" y="654.8" width="11.8" height="9.2" rx="0" fill="#fff" stroke="#161616" stroke-width="1.1" />
<rect x="148.8" y="656.9" width="6.8" height="5.2" rx="0" fill="#111" stroke="none" stroke-width="0" />
<text x="160.5" y="662.6" font-size="7.4" fill="#111" >In</text>
<rect x="177.3" y="654.8" width="11.6" height="9.2" rx="0" fill="#fff" stroke="#161616" stroke-width="1.1" />
<text x="191.6" y="662.6" font-size="7.4" textLength="12" lengthAdjust="spacingAndGlyphs" fill="#111" >Out</text>
<text x="-5.2" y="675.4" font-size="7.4" textLength="22.2" lengthAdjust="spacingAndGlyphs" fill="#111" >JAMB:</text>
<text x="34.5" y="677.8" font-size="7.1" fill="#111" >4"</text>
<line x1="20" y1="680.8" x2="56.8" y2="680.8" stroke="#1a1a1a" stroke-width="0.95" />
<text x="68.8" y="675.4" font-size="7.4" textLength="47.5" lengthAdjust="spacingAndGlyphs" fill="#111" >THRESHOLD:</text>
<text x="132.1" y="677.8" font-size="7.1" fill="#111" >4"</text>
<line x1="119.5" y1="680.9" x2="156.3" y2="680.9" stroke="#1a1a1a" stroke-width="0.95" />
<text x="-5.6" y="693.5" font-size="7.4" textLength="48.7" lengthAdjust="spacingAndGlyphs" fill="#111" >THRESHOLD:</text>
<rect x="51.2" y="695.4" width="11.4" height="9" rx="0" fill="#fff" stroke="#161616" stroke-width="1.1" />
<rect x="53.8" y="697.5" width="6.4" height="5" rx="0" fill="#111" stroke="none" stroke-width="0" />
<text x="65.2" y="702.9" font-size="7.4" textLength="37.7" lengthAdjust="spacingAndGlyphs" fill="#111" >Residential</text>
<rect x="120.5" y="695.2" width="11.6" height="9.5" rx="0" fill="#fff" stroke="#161616" stroke-width="1.1" />
<text x="134.8" y="703.2" font-size="7.4" textLength="41.5" lengthAdjust="spacingAndGlyphs" fill="#111" >Commercial</text>
<rect x="191.6" y="695.2" width="11" height="9.5" rx="0" fill="#fff" stroke="#161616" stroke-width="1.1" />
<text x="205.7" y="703.2" font-size="7.4" textLength="12.7" lengthAdjust="spacingAndGlyphs" fill="#111" >N/A</text>
<line x1="221.5" y1="703.6" x2="247.8" y2="703.6" stroke="#1a1a1a" stroke-width="0.95" />
<line x1="252" y1="596.2" x2="510.5" y2="596.2" stroke="#1a1a1a" stroke-width="1.1" />
<line x1="252" y1="616.4" x2="510.5" y2="616.4" stroke="#1a1a1a" stroke-width="1.1" />
<line x1="252" y1="641.9" x2="510.5" y2="641.9" stroke="#1a1a1a" stroke-width="1.1" />
<line x1="252" y1="663.4" x2="510.5" y2="663.4" stroke="#1a1a1a" stroke-width="1.1" />
<line x1="252" y1="687" x2="510.5" y2="687" stroke="#1a1a1a" stroke-width="1.1" />
<line x1="510.5" y1="574.4" x2="510.5" y2="707" stroke="#1a1a1a" stroke-width="1.3" />
<line x1="367.3" y1="596.2" x2="367.3" y2="616.4" stroke="#1a1a1a" stroke-width="1.1" />
<line x1="447.4" y1="596.2" x2="447.4" y2="616.4" stroke="#1a1a1a" stroke-width="1.1" />
<line x1="334.8" y1="616.4" x2="334.8" y2="641.9" stroke="#1a1a1a" stroke-width="1.1" />
<line x1="360.9" y1="663.4" x2="360.9" y2="687" stroke="#1a1a1a" stroke-width="1.1" />
<line x1="318.2" y1="687" x2="318.2" y2="707" stroke="#1a1a1a" stroke-width="1.1" />
<line x1="372.4" y1="687" x2="372.4" y2="707" stroke="#1a1a1a" stroke-width="1.1" />
<line x1="440.5" y1="687" x2="440.5" y2="707" stroke="#1a1a1a" stroke-width="1.1" />
<text x="254.4" y="582.1" font-size="7.4" textLength="74.2" lengthAdjust="spacingAndGlyphs" fill="#111" >DOOR/ GLASS TYPE:</text>
<text x="267.6" y="592" font-size="7.1" textLength="17.9" lengthAdjust="spacingAndGlyphs" fill="#111" >Frost</text>
<text x="304.6" y="592" font-size="7.1" textLength="27.6" lengthAdjust="spacingAndGlyphs" fill="#111" >Aquatex</text>
<text x="352.3" y="592" font-size="7.1" textLength="15" lengthAdjust="spacingAndGlyphs" fill="#111" >Rain</text>
<text x="392.1" y="591.8" font-size="7.1" textLength="26.3" lengthAdjust="spacingAndGlyphs" fill="#111" >Flemish</text>
<rect x="432.5" y="584.3" width="32.6" height="9.9" rx="0" fill="none" stroke="#222" stroke-width="1.1" />
<text x="440.1" y="591.8" font-size="7.1" textLength="17.8" lengthAdjust="spacingAndGlyphs" fill="#111" >Clear</text>
<text x="477.9" y="591.8" font-size="7.1" textLength="19.4" lengthAdjust="spacingAndGlyphs" fill="#111" >Other</text>
<rect x="260.4" y="601.7" width="11.7" height="9.4" rx="0" fill="#fff" stroke="#161616" stroke-width="1.1" />
<rect x="263" y="603.8" width="6.7" height="5.4" rx="0" fill="#111" stroke="none" stroke-width="0" />
<text x="274.5" y="609.6" font-size="7.4" textLength="42.7" lengthAdjust="spacingAndGlyphs" fill="#111" >Operable  or</text>
<rect x="323.2" y="601.7" width="11.6" height="9.4" rx="0" fill="#fff" stroke="#161616" stroke-width="1.1" />
<text x="337.6" y="609.6" font-size="7.4" textLength="18.1" lengthAdjust="spacingAndGlyphs" fill="#111" >Fixed</text>
<rect x="378" y="601.6" width="11.6" height="9.4" rx="0" fill="#fff" stroke="#161616" stroke-width="1.1" />
<text x="392.1" y="609.6" font-size="7.4" textLength="47.3" lengthAdjust="spacingAndGlyphs" fill="#111" >Hurricane film</text>
<rect x="456.7" y="601.6" width="11.8" height="9.4" rx="0" fill="#fff" stroke="#161616" stroke-width="1.1" />
<text x="472.7" y="609.6" font-size="7.4" textLength="24.2" lengthAdjust="spacingAndGlyphs" fill="#111" >Screen</text>
<text x="255" y="624.6" font-size="7.4" textLength="39.1" lengthAdjust="spacingAndGlyphs" fill="#111" >TRANSOM:</text>
<text x="256.6" y="635.2" font-size="7.4" textLength="38.5" lengthAdjust="spacingAndGlyphs" fill="#111" >Glass type:</text>
<line x1="295.1" y1="638.3" x2="330.2" y2="638.3" stroke="#1a1a1a" stroke-width="0.95" />
<text x="310.2" y="635.8" font-size="7.1" fill="#111" >--</text>
<text x="338.8" y="624.6" font-size="7.4" textLength="46" lengthAdjust="spacingAndGlyphs" fill="#111" >SIDELIGHTS:</text>
<text x="338.8" y="635.2" font-size="7.4" textLength="38.5" lengthAdjust="spacingAndGlyphs" fill="#111" >Glass type:</text>
<line x1="377.4" y1="638.4" x2="413.1" y2="638.4" stroke="#1a1a1a" stroke-width="0.95" />
<text x="392.7" y="635.8" font-size="7.1" fill="#111" >--</text>
<rect x="417.3" y="625.8" width="11.6" height="9.4" rx="0" fill="#fff" stroke="#161616" stroke-width="1.1" />
<text x="431.4" y="633.8" font-size="7.4" textLength="31.2" lengthAdjust="spacingAndGlyphs" fill="#111" >Operable</text>
<rect x="469.3" y="625.8" width="11.2" height="9.4" rx="0" fill="#fff" stroke="#161616" stroke-width="1.1" />
<text x="483.2" y="633.8" font-size="7.4" textLength="18.9" lengthAdjust="spacingAndGlyphs" fill="#111" >Fixed</text>
<text x="259.4" y="649.3" font-size="7.4" textLength="20.1" lengthAdjust="spacingAndGlyphs" fill="#111" >TRIM:</text>
<rect x="287.7" y="651.2" width="11.4" height="9.5" rx="0" fill="#fff" stroke="#161616" stroke-width="1.1" />
<text x="301.7" y="659.3" font-size="7.4" textLength="19.9" lengthAdjust="spacingAndGlyphs" fill="#111" >Inside</text>
<line x1="325.2" y1="658.9" x2="364.7" y2="658.9" stroke="#1a1a1a" stroke-width="0.95" />
<text x="341.3" y="657.6" font-size="7.1" fill="#111" >--</text>
<rect x="372.5" y="651.6" width="11.8" height="9.5" rx="0" fill="#fff" stroke="#161616" stroke-width="1.1" />
<text x="386.8" y="659.4" font-size="7.4" textLength="26.3" lengthAdjust="spacingAndGlyphs" fill="#111" >Outside</text>
<line x1="416.3" y1="659.4" x2="455.6" y2="659.4" stroke="#1a1a1a" stroke-width="0.95" />
<text x="431" y="657.8" font-size="7.1" fill="#111" >--</text>
<rect x="467.2" y="651.6" width="11.8" height="9.5" rx="0" fill="#fff" stroke="#161616" stroke-width="1.1" />
<text x="481.5" y="659.4" font-size="7.4" textLength="12.2" lengthAdjust="spacingAndGlyphs" fill="#111" >N/A</text>
<text x="254.4" y="672.4" font-size="7.4" textLength="37.7" lengthAdjust="spacingAndGlyphs" fill="#111" >PACKAGE:</text>
<rect x="279.7" y="675.9" width="11.4" height="9.4" rx="0" fill="#fff" stroke="#161616" stroke-width="1.1" />
<rect x="282.3" y="678" width="6.4" height="5.4" rx="0" fill="#111" stroke="none" stroke-width="0" />
<text x="293.7" y="683.8" font-size="7.4" textLength="13.1" lengthAdjust="spacingAndGlyphs" fill="#111" >Box</text>
<rect x="315.2" y="675.9" width="11.6" height="9.4" rx="0" fill="#fff" stroke="#161616" stroke-width="1.1" />
<text x="329.2" y="683.8" font-size="7.4" textLength="24.1" lengthAdjust="spacingAndGlyphs" fill="#111" >No box</text>
<rect x="370.3" y="671.4" width="11.3" height="9.4" rx="0" fill="#fff" stroke="#161616" stroke-width="1.1" />
<text x="384.1" y="679.4" font-size="7.4" textLength="20" lengthAdjust="spacingAndGlyphs" fill="#111" >Install</text>
<rect x="419.4" y="671.6" width="11.6" height="9.5" rx="0" fill="#fff" stroke="#161616" stroke-width="1.1" />
<text x="433.5" y="679.4" font-size="7.4" textLength="27.4" lengthAdjust="spacingAndGlyphs" fill="#111" >Delivery</text>
<rect x="467.8" y="671.6" width="11.6" height="9.5" rx="0" fill="#fff" stroke="#161616" stroke-width="1.1" />
<rect x="470.4" y="673.7" width="6.6" height="5.5" rx="0" fill="#111" stroke="none" stroke-width="0" />
<text x="481.9" y="679.4" font-size="7.4" textLength="12.7" lengthAdjust="spacingAndGlyphs" fill="#111" >LTL</text>
<text x="254.4" y="696" font-size="7.4" textLength="30.1" lengthAdjust="spacingAndGlyphs" fill="#111" >PIECES:</text>
<text x="297.1" y="701.4" font-size="7.1" textLength="8.1" lengthAdjust="spacingAndGlyphs" fill="#111" >02</text>
<line x1="286.1" y1="702.9" x2="313.8" y2="702.9" stroke="#1a1a1a" stroke-width="0.95" />
<text x="323.2" y="696" font-size="7.4" textLength="18.1" lengthAdjust="spacingAndGlyphs" fill="#111" >REV:</text>
<text x="352.3" y="701.4" font-size="7.1" textLength="8" lengthAdjust="spacingAndGlyphs" fill="#111" >00</text>
<line x1="341.3" y1="702.9" x2="369.3" y2="702.9" stroke="#1a1a1a" stroke-width="0.95" />
<text x="376.3" y="695.3" font-size="7.4" textLength="30.9" lengthAdjust="spacingAndGlyphs" fill="#111" >DRAWN:</text>
<text x="419.4" y="701" font-size="7.1" textLength="7" lengthAdjust="spacingAndGlyphs" fill="#111" >IS</text>
<line x1="408.9" y1="703.6" x2="436.9" y2="703.6" stroke="#1a1a1a" stroke-width="0.95" />
<text x="444.1" y="695.3" font-size="7.4" textLength="22.7" lengthAdjust="spacingAndGlyphs" fill="#111" >DATE:</text>
<text x="471" y="701" font-size="7.1" textLength="30.9" lengthAdjust="spacingAndGlyphs" fill="#111" >01/23/23</text>
<line x1="466.8" y1="703.6" x2="505.7" y2="703.6" stroke="#1a1a1a" stroke-width="0.95" />
<line x1="510.5" y1="574.4" x2="672.7" y2="574.4" stroke="#1a1a1a" stroke-width="1.2" />
<line x1="672.7" y1="574.4" x2="672.7" y2="707" stroke="#1a1a1a" stroke-width="1.2" />
<text x="515.5" y="587" font-size="9.4" textLength="31.4" lengthAdjust="spacingAndGlyphs" fill="#111" >*Notes:</text>
<line x1="672.7" y1="706.6" x2="713" y2="706.6" stroke="#999" stroke-width="0.8" />
<line x1="681.4" y1="686.7" x2="713" y2="686.7" stroke="#222" stroke-width="1.5" />
<text x="694.2" y="701.4" font-size="11.2" fill="#111" >CUST</text>
</svg>
</body></html>
